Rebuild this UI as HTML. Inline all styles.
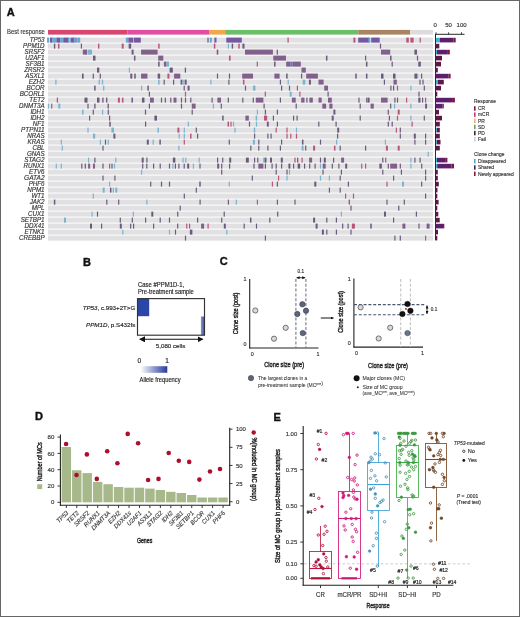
<!DOCTYPE html>
<html><head><meta charset="utf-8"><title>Figure</title>
<style>
html,body{margin:0;padding:0;background:#fff;}
body{width:520px;height:617px;overflow:hidden;}
svg{display:block;font-family:"Liberation Sans", sans-serif;}
#w{width:520px;height:617px;will-change:transform;}
</style></head>
<body>
<div id="w">
<svg width="520" height="617" viewBox="0 0 520 617">
<rect x="0" y="0" width="520" height="617" fill="#fff"/>
<text x="6.80" y="15.78" font-size="11" text-anchor="start" fill="#111" stroke="#111" stroke-width="0.4" font-weight="bold">A</text>
<text x="44.90" y="34.20" font-size="6.4" text-anchor="end" fill="#333" stroke="#333" stroke-width="0.12" textLength="37.8" lengthAdjust="spacingAndGlyphs">Best response</text>
<rect x="48.00" y="29.90" width="79.30" height="4.70" fill="#d9466f"/>
<rect x="127.30" y="29.90" width="82.30" height="4.70" fill="#e04fa3"/>
<rect x="209.60" y="29.90" width="15.60" height="4.70" fill="#f0a848"/>
<rect x="225.20" y="29.90" width="133.10" height="4.70" fill="#6cbf6a"/>
<rect x="358.30" y="29.90" width="51.90" height="4.70" fill="#a88462"/>
<rect x="410.20" y="29.90" width="22.80" height="4.70" fill="#dcdcdc"/>
<rect x="48.00" y="37.60" width="385.00" height="5.00" fill="#e1e1e3"/>
<text x="44.60" y="42.34" font-size="6.5" text-anchor="end" fill="#333" stroke="#333" stroke-width="0.15" font-style="italic" textLength="14.91" lengthAdjust="spacingAndGlyphs">TP53</text>
<rect x="48.00" y="43.60" width="385.00" height="5.00" fill="#e1e1e3"/>
<text x="44.60" y="48.34" font-size="6.5" text-anchor="end" fill="#333" stroke="#333" stroke-width="0.15" font-style="italic" textLength="21.5" lengthAdjust="spacingAndGlyphs">PPM1D</text>
<rect x="48.00" y="49.60" width="385.00" height="5.00" fill="#e1e1e3"/>
<text x="44.60" y="54.34" font-size="6.5" text-anchor="end" fill="#333" stroke="#333" stroke-width="0.15" font-style="italic" textLength="20.11" lengthAdjust="spacingAndGlyphs">SRSF2</text>
<rect x="48.00" y="55.60" width="385.00" height="5.00" fill="#e1e1e3"/>
<text x="44.60" y="60.34" font-size="6.5" text-anchor="end" fill="#333" stroke="#333" stroke-width="0.15" font-style="italic" textLength="19.42" lengthAdjust="spacingAndGlyphs">U2AF1</text>
<rect x="48.00" y="61.60" width="385.00" height="5.00" fill="#e1e1e3"/>
<text x="44.60" y="66.34" font-size="6.5" text-anchor="end" fill="#333" stroke="#333" stroke-width="0.15" font-style="italic" textLength="19.08" lengthAdjust="spacingAndGlyphs">SF3B1</text>
<rect x="48.00" y="67.60" width="385.00" height="5.00" fill="#e1e1e3"/>
<text x="44.60" y="72.34" font-size="6.5" text-anchor="end" fill="#333" stroke="#333" stroke-width="0.15" font-style="italic" textLength="20.46" lengthAdjust="spacingAndGlyphs">ZRSR2</text>
<rect x="48.00" y="73.60" width="385.00" height="5.00" fill="#e1e1e3"/>
<text x="44.60" y="78.34" font-size="6.5" text-anchor="end" fill="#333" stroke="#333" stroke-width="0.15" font-style="italic" textLength="19.43" lengthAdjust="spacingAndGlyphs">ASXL1</text>
<rect x="48.00" y="79.60" width="385.00" height="5.00" fill="#e1e1e3"/>
<text x="44.60" y="84.34" font-size="6.5" text-anchor="end" fill="#333" stroke="#333" stroke-width="0.15" font-style="italic" textLength="15.95" lengthAdjust="spacingAndGlyphs">EZH2</text>
<rect x="48.00" y="85.60" width="385.00" height="5.00" fill="#e1e1e3"/>
<text x="44.60" y="90.34" font-size="6.5" text-anchor="end" fill="#333" stroke="#333" stroke-width="0.15" font-style="italic" textLength="18.03" lengthAdjust="spacingAndGlyphs">BCOR</text>
<rect x="48.00" y="91.60" width="385.00" height="5.00" fill="#e1e1e3"/>
<text x="44.60" y="96.34" font-size="6.5" text-anchor="end" fill="#333" stroke="#333" stroke-width="0.15" font-style="italic" textLength="24.97" lengthAdjust="spacingAndGlyphs">BCORL1</text>
<rect x="48.00" y="97.60" width="385.00" height="5.00" fill="#e1e1e3"/>
<text x="44.60" y="102.34" font-size="6.5" text-anchor="end" fill="#333" stroke="#333" stroke-width="0.15" font-style="italic" textLength="15.26" lengthAdjust="spacingAndGlyphs">TET2</text>
<rect x="48.00" y="103.60" width="385.00" height="5.00" fill="#e1e1e3"/>
<text x="44.60" y="108.34" font-size="6.5" text-anchor="end" fill="#333" stroke="#333" stroke-width="0.15" font-style="italic" textLength="25.65" lengthAdjust="spacingAndGlyphs">DNMT3A</text>
<rect x="48.00" y="109.60" width="385.00" height="5.00" fill="#e1e1e3"/>
<text x="44.60" y="114.34" font-size="6.5" text-anchor="end" fill="#333" stroke="#333" stroke-width="0.15" font-style="italic" textLength="14.22" lengthAdjust="spacingAndGlyphs">IDH1</text>
<rect x="48.00" y="115.60" width="385.00" height="5.00" fill="#e1e1e3"/>
<text x="44.60" y="120.34" font-size="6.5" text-anchor="end" fill="#333" stroke="#333" stroke-width="0.15" font-style="italic" textLength="14.22" lengthAdjust="spacingAndGlyphs">IDH2</text>
<rect x="48.00" y="121.60" width="385.00" height="5.00" fill="#e1e1e3"/>
<text x="44.60" y="126.34" font-size="6.5" text-anchor="end" fill="#333" stroke="#333" stroke-width="0.15" font-style="italic" textLength="11.79" lengthAdjust="spacingAndGlyphs">NF1</text>
<rect x="48.00" y="127.60" width="385.00" height="5.00" fill="#e1e1e3"/>
<text x="44.60" y="132.34" font-size="6.5" text-anchor="end" fill="#333" stroke="#333" stroke-width="0.15" font-style="italic" textLength="23.58" lengthAdjust="spacingAndGlyphs">PTPN11</text>
<rect x="48.00" y="133.60" width="385.00" height="5.00" fill="#e1e1e3"/>
<text x="44.60" y="138.34" font-size="6.5" text-anchor="end" fill="#333" stroke="#333" stroke-width="0.15" font-style="italic" textLength="17.34" lengthAdjust="spacingAndGlyphs">NRAS</text>
<rect x="48.00" y="139.60" width="385.00" height="5.00" fill="#e1e1e3"/>
<text x="44.60" y="144.34" font-size="6.5" text-anchor="end" fill="#333" stroke="#333" stroke-width="0.15" font-style="italic" textLength="16.99" lengthAdjust="spacingAndGlyphs">KRAS</text>
<rect x="48.00" y="145.60" width="385.00" height="5.00" fill="#e1e1e3"/>
<text x="44.60" y="150.34" font-size="6.5" text-anchor="end" fill="#333" stroke="#333" stroke-width="0.15" font-style="italic" textLength="12.14" lengthAdjust="spacingAndGlyphs">CBL</text>
<rect x="48.00" y="151.60" width="385.00" height="5.00" fill="#e1e1e3"/>
<text x="44.60" y="156.34" font-size="6.5" text-anchor="end" fill="#333" stroke="#333" stroke-width="0.15" font-style="italic" textLength="17.68" lengthAdjust="spacingAndGlyphs">GNAS</text>
<rect x="48.00" y="157.60" width="385.00" height="5.00" fill="#e1e1e3"/>
<text x="44.60" y="162.34" font-size="6.5" text-anchor="end" fill="#333" stroke="#333" stroke-width="0.15" font-style="italic" textLength="20.46" lengthAdjust="spacingAndGlyphs">STAG2</text>
<rect x="48.00" y="163.60" width="385.00" height="5.00" fill="#e1e1e3"/>
<text x="44.60" y="168.34" font-size="6.5" text-anchor="end" fill="#333" stroke="#333" stroke-width="0.15" font-style="italic" textLength="21.15" lengthAdjust="spacingAndGlyphs">RUNX1</text>
<rect x="48.00" y="169.60" width="385.00" height="5.00" fill="#e1e1e3"/>
<text x="44.60" y="174.34" font-size="6.5" text-anchor="end" fill="#333" stroke="#333" stroke-width="0.15" font-style="italic" textLength="15.61" lengthAdjust="spacingAndGlyphs">ETV6</text>
<rect x="48.00" y="175.60" width="385.00" height="5.00" fill="#e1e1e3"/>
<text x="44.60" y="180.34" font-size="6.5" text-anchor="end" fill="#333" stroke="#333" stroke-width="0.15" font-style="italic" textLength="20.46" lengthAdjust="spacingAndGlyphs">GATA2</text>
<rect x="48.00" y="181.60" width="385.00" height="5.00" fill="#e1e1e3"/>
<text x="44.60" y="186.34" font-size="6.5" text-anchor="end" fill="#333" stroke="#333" stroke-width="0.15" font-style="italic" textLength="15.95" lengthAdjust="spacingAndGlyphs">PHF6</text>
<rect x="48.00" y="187.60" width="385.00" height="5.00" fill="#e1e1e3"/>
<text x="44.60" y="192.34" font-size="6.5" text-anchor="end" fill="#333" stroke="#333" stroke-width="0.15" font-style="italic" textLength="17.34" lengthAdjust="spacingAndGlyphs">NPM1</text>
<rect x="48.00" y="193.60" width="385.00" height="5.00" fill="#e1e1e3"/>
<text x="44.60" y="198.34" font-size="6.5" text-anchor="end" fill="#333" stroke="#333" stroke-width="0.15" font-style="italic" textLength="13.17" lengthAdjust="spacingAndGlyphs">WT1</text>
<rect x="48.00" y="199.60" width="385.00" height="5.00" fill="#e1e1e3"/>
<text x="44.60" y="204.34" font-size="6.5" text-anchor="end" fill="#333" stroke="#333" stroke-width="0.15" font-style="italic" textLength="14.91" lengthAdjust="spacingAndGlyphs">JAK2</text>
<rect x="48.00" y="205.60" width="385.00" height="5.00" fill="#e1e1e3"/>
<text x="44.60" y="210.34" font-size="6.5" text-anchor="end" fill="#333" stroke="#333" stroke-width="0.15" font-style="italic" textLength="12.83" lengthAdjust="spacingAndGlyphs">MPL</text>
<rect x="48.00" y="211.60" width="385.00" height="5.00" fill="#e1e1e3"/>
<text x="44.60" y="216.34" font-size="6.5" text-anchor="end" fill="#333" stroke="#333" stroke-width="0.15" font-style="italic" textLength="16.65" lengthAdjust="spacingAndGlyphs">CUX1</text>
<rect x="48.00" y="217.60" width="385.00" height="5.00" fill="#e1e1e3"/>
<text x="44.60" y="222.34" font-size="6.5" text-anchor="end" fill="#333" stroke="#333" stroke-width="0.15" font-style="italic" textLength="23.93" lengthAdjust="spacingAndGlyphs">SETBP1</text>
<rect x="48.00" y="223.60" width="385.00" height="5.00" fill="#e1e1e3"/>
<text x="44.60" y="228.34" font-size="6.5" text-anchor="end" fill="#333" stroke="#333" stroke-width="0.15" font-style="italic" textLength="20.12" lengthAdjust="spacingAndGlyphs">DDX41</text>
<rect x="48.00" y="229.60" width="385.00" height="5.00" fill="#e1e1e3"/>
<text x="44.60" y="234.34" font-size="6.5" text-anchor="end" fill="#333" stroke="#333" stroke-width="0.15" font-style="italic" textLength="20.11" lengthAdjust="spacingAndGlyphs">ETNK1</text>
<rect x="48.00" y="235.60" width="385.00" height="5.00" fill="#e1e1e3"/>
<text x="44.60" y="240.34" font-size="6.5" text-anchor="end" fill="#333" stroke="#333" stroke-width="0.15" font-style="italic" textLength="25.66" lengthAdjust="spacingAndGlyphs">CREBBP</text>
<rect x="47.00" y="37.60" width="2.00" height="5.00" fill="#62aad8"/>
<rect x="50.00" y="37.60" width="2.50" height="5.00" fill="#7458a2"/>
<rect x="52.50" y="37.60" width="4.00" height="5.00" fill="#62aad8"/>
<rect x="56.50" y="37.60" width="4.00" height="5.00" fill="#7458a2"/>
<rect x="60.50" y="37.60" width="2.80" height="5.00" fill="#62aad8"/>
<rect x="63.30" y="37.60" width="5.50" height="5.00" fill="#7458a2"/>
<rect x="67.95" y="37.60" width="1.70" height="5.00" fill="#62aad8"/>
<rect x="70.50" y="37.60" width="4.00" height="5.00" fill="#7458a2"/>
<rect x="73.75" y="37.60" width="1.50" height="5.00" fill="#62aad8"/>
<rect x="75.40" y="37.60" width="1.20" height="5.00" fill="#7458a2"/>
<rect x="77.20" y="37.60" width="3.00" height="5.00" fill="#62aad8"/>
<rect x="125.90" y="37.60" width="2.50" height="5.00" fill="#62aad8"/>
<rect x="128.40" y="37.60" width="5.00" height="5.00" fill="#7458a2"/>
<rect x="134.00" y="37.60" width="6.80" height="5.00" fill="#7458a2"/>
<rect x="207.40" y="37.60" width="1.20" height="5.00" fill="#6c5a7a"/>
<rect x="209.80" y="37.60" width="2.00" height="5.00" fill="#62aad8"/>
<rect x="214.40" y="37.60" width="2.10" height="5.00" fill="#7458a2"/>
<rect x="226.30" y="37.60" width="15.50" height="5.00" fill="#7458a2"/>
<rect x="287.45" y="37.60" width="1.30" height="5.00" fill="#b8557a"/>
<rect x="353.40" y="37.60" width="2.00" height="5.00" fill="#b8557a"/>
<rect x="358.20" y="37.60" width="11.10" height="5.00" fill="#7458a2"/>
<rect x="368.35" y="37.60" width="1.90" height="5.00" fill="#62aad8"/>
<rect x="371.20" y="37.60" width="8.50" height="5.00" fill="#7458a2"/>
<rect x="406.30" y="37.60" width="2.50" height="5.00" fill="#b8557a"/>
<rect x="410.40" y="37.60" width="3.20" height="5.00" fill="#b8557a"/>
<rect x="419.60" y="37.60" width="1.20" height="5.00" fill="#b8557a"/>
<rect x="53.90" y="43.60" width="1.40" height="5.00" fill="#6c5a7a"/>
<rect x="57.95" y="43.60" width="1.50" height="5.00" fill="#b8557a"/>
<rect x="80.80" y="43.60" width="1.20" height="5.00" fill="#6c5a7a"/>
<rect x="98.00" y="43.60" width="1.40" height="5.00" fill="#b8557a"/>
<rect x="121.70" y="43.60" width="2.00" height="5.00" fill="#b8557a"/>
<rect x="128.65" y="43.60" width="2.50" height="5.00" fill="#6c5a7a"/>
<rect x="158.15" y="43.60" width="1.50" height="5.00" fill="#b8557a"/>
<rect x="213.85" y="43.60" width="1.50" height="5.00" fill="#b8557a"/>
<rect x="227.80" y="43.60" width="1.20" height="5.00" fill="#7ab4cf"/>
<rect x="231.70" y="43.60" width="1.40" height="5.00" fill="#6c5a7a"/>
<rect x="238.25" y="43.60" width="1.50" height="5.00" fill="#b8557a"/>
<rect x="242.40" y="43.60" width="2.10" height="5.00" fill="#6c5a7a"/>
<rect x="379.90" y="43.60" width="1.20" height="5.00" fill="#6c5a7a"/>
<rect x="82.80" y="49.60" width="3.70" height="5.00" fill="#82608c"/>
<rect x="85.75" y="49.60" width="1.50" height="5.00" fill="#82608c"/>
<rect x="88.00" y="49.60" width="4.00" height="5.00" fill="#7ab4cf"/>
<rect x="131.60" y="49.60" width="2.00" height="5.00" fill="#6c5a7a"/>
<rect x="141.10" y="49.60" width="16.50" height="5.00" fill="#82608c"/>
<rect x="216.75" y="49.60" width="1.50" height="5.00" fill="#6c5a7a"/>
<rect x="245.00" y="49.60" width="27.90" height="5.00" fill="#82608c"/>
<rect x="276.70" y="49.60" width="1.20" height="5.00" fill="#6c5a7a"/>
<rect x="381.00" y="49.60" width="9.20" height="5.00" fill="#82608c"/>
<rect x="414.40" y="49.60" width="2.60" height="5.00" fill="#6c5a7a"/>
<rect x="93.00" y="55.60" width="2.50" height="5.00" fill="#6c5a7a"/>
<rect x="133.95" y="55.60" width="1.50" height="5.00" fill="#6c5a7a"/>
<rect x="158.20" y="55.60" width="5.10" height="5.00" fill="#82608c"/>
<rect x="228.95" y="55.60" width="1.70" height="5.00" fill="#b8557a"/>
<rect x="273.30" y="55.60" width="12.70" height="5.00" fill="#82608c"/>
<rect x="325.95" y="55.60" width="1.50" height="5.00" fill="#6c5a7a"/>
<rect x="365.00" y="55.60" width="1.20" height="5.00" fill="#6c5a7a"/>
<rect x="390.05" y="55.60" width="1.50" height="5.00" fill="#6c5a7a"/>
<rect x="416.90" y="55.60" width="1.20" height="5.00" fill="#6c5a7a"/>
<rect x="158.15" y="61.60" width="1.50" height="5.00" fill="#6c5a7a"/>
<rect x="163.90" y="61.60" width="2.60" height="5.00" fill="#82608c"/>
<rect x="166.50" y="61.60" width="2.50" height="5.00" fill="#7ab4cf"/>
<rect x="256.70" y="61.60" width="1.20" height="5.00" fill="#b8557a"/>
<rect x="274.05" y="61.60" width="1.50" height="5.00" fill="#6c5a7a"/>
<rect x="286.20" y="61.60" width="4.00" height="5.00" fill="#82608c"/>
<rect x="290.20" y="61.60" width="2.50" height="5.00" fill="#7078b0"/>
<rect x="292.70" y="61.60" width="8.10" height="5.00" fill="#82608c"/>
<rect x="365.95" y="61.60" width="1.50" height="5.00" fill="#6c5a7a"/>
<rect x="391.60" y="61.60" width="1.20" height="5.00" fill="#6c5a7a"/>
<rect x="418.30" y="61.60" width="2.50" height="5.00" fill="#6c5a7a"/>
<rect x="97.00" y="67.60" width="2.30" height="5.00" fill="#6c5a7a"/>
<rect x="128.80" y="67.60" width="1.20" height="5.00" fill="#7ab4cf"/>
<rect x="169.60" y="67.60" width="3.20" height="5.00" fill="#6c5a7a"/>
<rect x="184.75" y="67.60" width="1.30" height="5.00" fill="#6c5a7a"/>
<rect x="301.50" y="67.60" width="4.30" height="5.00" fill="#82608c"/>
<rect x="81.95" y="73.60" width="1.70" height="5.00" fill="#6c5a7a"/>
<rect x="92.70" y="73.60" width="1.20" height="5.00" fill="#6c5a7a"/>
<rect x="99.70" y="73.60" width="1.20" height="5.00" fill="#6c5a7a"/>
<rect x="130.30" y="73.60" width="2.00" height="5.00" fill="#6c5a7a"/>
<rect x="134.25" y="73.60" width="1.50" height="5.00" fill="#6c5a7a"/>
<rect x="141.10" y="73.60" width="6.30" height="5.00" fill="#82608c"/>
<rect x="157.65" y="73.60" width="2.50" height="5.00" fill="#6c5a7a"/>
<rect x="167.40" y="73.60" width="2.00" height="5.00" fill="#b8557a"/>
<rect x="174.10" y="73.60" width="6.20" height="5.00" fill="#82608c"/>
<rect x="216.90" y="73.60" width="1.20" height="5.00" fill="#6c5a7a"/>
<rect x="228.90" y="73.60" width="1.20" height="5.00" fill="#6c5a7a"/>
<rect x="242.20" y="73.60" width="10.80" height="5.00" fill="#82608c"/>
<rect x="274.40" y="73.60" width="5.20" height="5.00" fill="#82608c"/>
<rect x="286.15" y="73.60" width="1.50" height="5.00" fill="#6c5a7a"/>
<rect x="301.00" y="73.60" width="1.20" height="5.00" fill="#6c5a7a"/>
<rect x="306.20" y="73.60" width="11.70" height="5.00" fill="#82608c"/>
<rect x="355.25" y="73.60" width="1.50" height="5.00" fill="#6c5a7a"/>
<rect x="365.95" y="73.60" width="1.50" height="5.00" fill="#6c5a7a"/>
<rect x="381.00" y="73.60" width="2.50" height="5.00" fill="#6c5a7a"/>
<rect x="393.00" y="73.60" width="2.50" height="5.00" fill="#6c5a7a"/>
<rect x="414.40" y="73.60" width="2.60" height="5.00" fill="#6c5a7a"/>
<rect x="417.00" y="73.60" width="1.20" height="5.00" fill="#7ab4cf"/>
<rect x="421.00" y="73.60" width="1.20" height="5.00" fill="#6c5a7a"/>
<rect x="55.25" y="79.60" width="1.30" height="5.00" fill="#7ab4cf"/>
<rect x="98.65" y="79.60" width="1.30" height="5.00" fill="#7ab4cf"/>
<rect x="101.85" y="79.60" width="1.30" height="5.00" fill="#7ab4cf"/>
<rect x="158.15" y="79.60" width="1.50" height="5.00" fill="#7ab4cf"/>
<rect x="163.60" y="79.60" width="1.20" height="5.00" fill="#6c5a7a"/>
<rect x="173.00" y="79.60" width="1.20" height="5.00" fill="#6c5a7a"/>
<rect x="180.60" y="79.60" width="1.60" height="5.00" fill="#6c5a7a"/>
<rect x="182.20" y="79.60" width="1.60" height="5.00" fill="#7ab4cf"/>
<rect x="184.60" y="79.60" width="2.10" height="5.00" fill="#6c5a7a"/>
<rect x="210.30" y="79.60" width="1.20" height="5.00" fill="#7ab4cf"/>
<rect x="228.30" y="79.60" width="1.20" height="5.00" fill="#6c5a7a"/>
<rect x="242.95" y="79.60" width="1.50" height="5.00" fill="#b8557a"/>
<rect x="279.80" y="79.60" width="1.20" height="5.00" fill="#6c5a7a"/>
<rect x="287.60" y="79.60" width="1.20" height="5.00" fill="#7ab4cf"/>
<rect x="302.70" y="79.60" width="2.60" height="5.00" fill="#7ab4cf"/>
<rect x="308.90" y="79.60" width="2.00" height="5.00" fill="#6c5a7a"/>
<rect x="318.50" y="79.60" width="5.10" height="5.00" fill="#82608c"/>
<rect x="383.80" y="79.60" width="1.20" height="5.00" fill="#6c5a7a"/>
<rect x="393.50" y="79.60" width="3.30" height="5.00" fill="#82608c"/>
<rect x="419.40" y="79.60" width="1.20" height="5.00" fill="#6c5a7a"/>
<rect x="422.40" y="79.60" width="1.20" height="5.00" fill="#6c5a7a"/>
<rect x="94.15" y="85.60" width="1.50" height="5.00" fill="#6c5a7a"/>
<rect x="103.05" y="85.60" width="1.30" height="5.00" fill="#7ab4cf"/>
<rect x="141.00" y="85.60" width="1.20" height="5.00" fill="#7ab4cf"/>
<rect x="147.35" y="85.60" width="1.50" height="5.00" fill="#6c5a7a"/>
<rect x="183.60" y="85.60" width="1.20" height="5.00" fill="#6c5a7a"/>
<rect x="187.60" y="85.60" width="2.00" height="5.00" fill="#6c5a7a"/>
<rect x="244.90" y="85.60" width="1.20" height="5.00" fill="#6c5a7a"/>
<rect x="252.95" y="85.60" width="2.50" height="5.00" fill="#7ab4cf"/>
<rect x="281.00" y="85.60" width="1.20" height="5.00" fill="#6c5a7a"/>
<rect x="288.90" y="85.60" width="1.20" height="5.00" fill="#6c5a7a"/>
<rect x="296.80" y="85.60" width="1.20" height="5.00" fill="#b8557a"/>
<rect x="324.20" y="85.60" width="3.80" height="5.00" fill="#82608c"/>
<rect x="390.30" y="85.60" width="1.20" height="5.00" fill="#6c5a7a"/>
<rect x="393.00" y="85.60" width="1.20" height="5.00" fill="#6c5a7a"/>
<rect x="396.90" y="85.60" width="1.20" height="5.00" fill="#b8557a"/>
<rect x="410.30" y="85.60" width="1.20" height="5.00" fill="#7ab4cf"/>
<rect x="423.70" y="85.60" width="1.20" height="5.00" fill="#6c5a7a"/>
<rect x="148.80" y="91.60" width="1.20" height="5.00" fill="#6c5a7a"/>
<rect x="184.90" y="91.60" width="1.20" height="5.00" fill="#b8557a"/>
<rect x="264.70" y="91.60" width="1.20" height="5.00" fill="#b8557a"/>
<rect x="289.70" y="91.60" width="2.00" height="5.00" fill="#7ab4cf"/>
<rect x="299.30" y="91.60" width="1.20" height="5.00" fill="#b8557a"/>
<rect x="327.50" y="91.60" width="1.20" height="5.00" fill="#6c5a7a"/>
<rect x="418.40" y="91.60" width="1.20" height="5.00" fill="#6c5a7a"/>
<rect x="56.75" y="97.60" width="1.30" height="5.00" fill="#b8557a"/>
<rect x="84.50" y="97.60" width="3.00" height="5.00" fill="#6c5a7a"/>
<rect x="97.00" y="97.60" width="2.50" height="5.00" fill="#6c5a7a"/>
<rect x="102.25" y="97.60" width="1.30" height="5.00" fill="#6c5a7a"/>
<rect x="106.05" y="97.60" width="1.30" height="5.00" fill="#6c5a7a"/>
<rect x="117.90" y="97.60" width="2.00" height="5.00" fill="#b8557a"/>
<rect x="121.95" y="97.60" width="1.50" height="5.00" fill="#b8557a"/>
<rect x="131.45" y="97.60" width="1.50" height="5.00" fill="#6c5a7a"/>
<rect x="141.95" y="97.60" width="2.50" height="5.00" fill="#6c5a7a"/>
<rect x="150.00" y="97.60" width="3.80" height="5.00" fill="#82608c"/>
<rect x="160.90" y="97.60" width="1.20" height="5.00" fill="#6c5a7a"/>
<rect x="164.70" y="97.60" width="1.20" height="5.00" fill="#6c5a7a"/>
<rect x="170.20" y="97.60" width="1.20" height="5.00" fill="#6c5a7a"/>
<rect x="173.50" y="97.60" width="3.00" height="5.00" fill="#82608c"/>
<rect x="180.90" y="97.60" width="1.20" height="5.00" fill="#6c5a7a"/>
<rect x="184.90" y="97.60" width="1.20" height="5.00" fill="#6c5a7a"/>
<rect x="190.20" y="97.60" width="1.20" height="5.00" fill="#6c5a7a"/>
<rect x="211.50" y="97.60" width="1.20" height="5.00" fill="#6c5a7a"/>
<rect x="217.40" y="97.60" width="3.60" height="5.00" fill="#82608c"/>
<rect x="227.70" y="97.60" width="1.20" height="5.00" fill="#6c5a7a"/>
<rect x="242.20" y="97.60" width="1.20" height="5.00" fill="#6c5a7a"/>
<rect x="252.70" y="97.60" width="1.20" height="5.00" fill="#6c5a7a"/>
<rect x="255.80" y="97.60" width="7.60" height="5.00" fill="#82608c"/>
<rect x="279.80" y="97.60" width="1.20" height="5.00" fill="#6c5a7a"/>
<rect x="291.90" y="97.60" width="3.80" height="5.00" fill="#82608c"/>
<rect x="301.20" y="97.60" width="3.30" height="5.00" fill="#82608c"/>
<rect x="306.30" y="97.60" width="1.20" height="5.00" fill="#6c5a7a"/>
<rect x="309.40" y="97.60" width="3.40" height="5.00" fill="#82608c"/>
<rect x="318.50" y="97.60" width="3.20" height="5.00" fill="#82608c"/>
<rect x="328.00" y="97.60" width="3.80" height="5.00" fill="#82608c"/>
<rect x="358.40" y="97.60" width="1.20" height="5.00" fill="#6c5a7a"/>
<rect x="366.20" y="97.60" width="1.20" height="5.00" fill="#6c5a7a"/>
<rect x="367.60" y="97.60" width="2.00" height="5.00" fill="#6c5a7a"/>
<rect x="381.00" y="97.60" width="6.60" height="5.00" fill="#82608c"/>
<rect x="394.30" y="97.60" width="1.20" height="5.00" fill="#6c5a7a"/>
<rect x="396.90" y="97.60" width="1.20" height="5.00" fill="#6c5a7a"/>
<rect x="406.00" y="97.60" width="1.20" height="5.00" fill="#b8557a"/>
<rect x="418.30" y="97.60" width="2.20" height="5.00" fill="#6c5a7a"/>
<rect x="422.00" y="97.60" width="1.20" height="5.00" fill="#6c5a7a"/>
<rect x="425.00" y="97.60" width="1.20" height="5.00" fill="#b8557a"/>
<rect x="47.80" y="103.60" width="1.20" height="5.00" fill="#7ab4cf"/>
<rect x="51.10" y="103.60" width="1.20" height="5.00" fill="#b8557a"/>
<rect x="58.30" y="103.60" width="2.00" height="5.00" fill="#7ab4cf"/>
<rect x="87.40" y="103.60" width="1.20" height="5.00" fill="#6c5a7a"/>
<rect x="94.25" y="103.60" width="1.30" height="5.00" fill="#6c5a7a"/>
<rect x="107.55" y="103.60" width="1.30" height="5.00" fill="#6c5a7a"/>
<rect x="148.80" y="103.60" width="1.20" height="5.00" fill="#6c5a7a"/>
<rect x="180.90" y="103.60" width="1.20" height="5.00" fill="#6c5a7a"/>
<rect x="191.80" y="103.60" width="3.80" height="5.00" fill="#82608c"/>
<rect x="212.80" y="103.60" width="1.20" height="5.00" fill="#7ab4cf"/>
<rect x="220.70" y="103.60" width="1.20" height="5.00" fill="#6c5a7a"/>
<rect x="263.50" y="103.60" width="1.20" height="5.00" fill="#6c5a7a"/>
<rect x="295.60" y="103.60" width="1.20" height="5.00" fill="#6c5a7a"/>
<rect x="322.30" y="103.60" width="3.80" height="5.00" fill="#82608c"/>
<rect x="329.30" y="103.60" width="3.20" height="5.00" fill="#82608c"/>
<rect x="359.60" y="103.60" width="1.20" height="5.00" fill="#6c5a7a"/>
<rect x="370.60" y="103.60" width="3.20" height="5.00" fill="#82608c"/>
<rect x="390.10" y="103.60" width="1.20" height="5.00" fill="#6c5a7a"/>
<rect x="394.00" y="103.60" width="1.20" height="5.00" fill="#7ab4cf"/>
<rect x="410.30" y="103.60" width="1.20" height="5.00" fill="#7ab4cf"/>
<rect x="425.15" y="103.60" width="1.90" height="5.00" fill="#6c5a7a"/>
<rect x="82.05" y="109.60" width="1.50" height="5.00" fill="#7ab4cf"/>
<rect x="92.70" y="109.60" width="1.20" height="5.00" fill="#6c5a7a"/>
<rect x="102.00" y="109.60" width="1.20" height="5.00" fill="#7ab4cf"/>
<rect x="107.70" y="109.60" width="1.20" height="5.00" fill="#6c5a7a"/>
<rect x="144.90" y="109.60" width="1.20" height="5.00" fill="#6c5a7a"/>
<rect x="191.60" y="109.60" width="1.20" height="5.00" fill="#6c5a7a"/>
<rect x="256.80" y="109.60" width="1.20" height="5.00" fill="#7ab4cf"/>
<rect x="264.80" y="109.60" width="1.20" height="5.00" fill="#6c5a7a"/>
<rect x="276.80" y="109.60" width="1.20" height="5.00" fill="#6c5a7a"/>
<rect x="333.40" y="109.60" width="2.00" height="5.00" fill="#6c5a7a"/>
<rect x="387.70" y="109.60" width="1.20" height="5.00" fill="#6c5a7a"/>
<rect x="397.70" y="109.60" width="2.00" height="5.00" fill="#b8557a"/>
<rect x="89.00" y="115.60" width="1.20" height="5.00" fill="#6c5a7a"/>
<rect x="109.00" y="115.60" width="1.20" height="5.00" fill="#6c5a7a"/>
<rect x="154.40" y="115.60" width="2.60" height="5.00" fill="#6c5a7a"/>
<rect x="222.15" y="115.60" width="1.50" height="5.00" fill="#6c5a7a"/>
<rect x="245.40" y="115.60" width="3.40" height="5.00" fill="#82608c"/>
<rect x="255.65" y="115.60" width="1.50" height="5.00" fill="#7ab4cf"/>
<rect x="264.00" y="115.60" width="3.20" height="5.00" fill="#b8557a"/>
<rect x="272.80" y="115.60" width="1.20" height="5.00" fill="#6c5a7a"/>
<rect x="293.00" y="115.60" width="1.20" height="5.00" fill="#6c5a7a"/>
<rect x="296.50" y="115.60" width="1.20" height="5.00" fill="#6c5a7a"/>
<rect x="331.70" y="115.60" width="2.00" height="5.00" fill="#6c5a7a"/>
<rect x="359.60" y="115.60" width="1.20" height="5.00" fill="#6c5a7a"/>
<rect x="388.80" y="115.60" width="1.20" height="5.00" fill="#6c5a7a"/>
<rect x="396.90" y="115.60" width="1.20" height="5.00" fill="#b8557a"/>
<rect x="410.30" y="115.60" width="1.20" height="5.00" fill="#7ab4cf"/>
<rect x="423.70" y="115.60" width="1.20" height="5.00" fill="#6c5a7a"/>
<rect x="109.25" y="121.60" width="1.50" height="5.00" fill="#6c5a7a"/>
<rect x="145.00" y="121.60" width="1.20" height="5.00" fill="#6c5a7a"/>
<rect x="187.70" y="121.60" width="1.20" height="5.00" fill="#7ab4cf"/>
<rect x="227.55" y="121.60" width="1.50" height="5.00" fill="#b8557a"/>
<rect x="230.40" y="121.60" width="1.20" height="5.00" fill="#b8557a"/>
<rect x="232.90" y="121.60" width="1.20" height="5.00" fill="#7ab4cf"/>
<rect x="248.90" y="121.60" width="1.20" height="5.00" fill="#6c5a7a"/>
<rect x="255.90" y="121.60" width="1.20" height="5.00" fill="#7ab4cf"/>
<rect x="266.85" y="121.60" width="1.90" height="5.00" fill="#6c5a7a"/>
<rect x="276.80" y="121.60" width="1.20" height="5.00" fill="#6c5a7a"/>
<rect x="318.20" y="121.60" width="1.20" height="5.00" fill="#6c5a7a"/>
<rect x="335.50" y="121.60" width="1.20" height="5.00" fill="#6c5a7a"/>
<rect x="387.70" y="121.60" width="1.20" height="5.00" fill="#6c5a7a"/>
<rect x="391.60" y="121.60" width="1.20" height="5.00" fill="#6c5a7a"/>
<rect x="411.50" y="121.60" width="1.20" height="5.00" fill="#b8557a"/>
<rect x="87.40" y="127.60" width="1.20" height="5.00" fill="#7ab4cf"/>
<rect x="111.40" y="127.60" width="2.60" height="5.00" fill="#7ab4cf"/>
<rect x="157.45" y="127.60" width="1.50" height="5.00" fill="#7ab4cf"/>
<rect x="177.40" y="127.60" width="2.00" height="5.00" fill="#b8557a"/>
<rect x="183.70" y="127.60" width="1.20" height="5.00" fill="#7ab4cf"/>
<rect x="195.70" y="127.60" width="1.20" height="5.00" fill="#6c5a7a"/>
<rect x="234.40" y="127.60" width="1.20" height="5.00" fill="#7ab4cf"/>
<rect x="253.75" y="127.60" width="1.50" height="5.00" fill="#7ab4cf"/>
<rect x="275.60" y="127.60" width="1.20" height="5.00" fill="#b8557a"/>
<rect x="286.40" y="127.60" width="1.20" height="5.00" fill="#b8557a"/>
<rect x="295.90" y="127.60" width="1.20" height="5.00" fill="#7ab4cf"/>
<rect x="337.20" y="127.60" width="2.00" height="5.00" fill="#6c5a7a"/>
<rect x="395.80" y="127.60" width="1.20" height="5.00" fill="#b8557a"/>
<rect x="399.70" y="127.60" width="1.20" height="5.00" fill="#6c5a7a"/>
<rect x="93.00" y="133.60" width="2.20" height="5.00" fill="#7ab4cf"/>
<rect x="113.40" y="133.60" width="2.00" height="5.00" fill="#6c5a7a"/>
<rect x="178.60" y="133.60" width="1.20" height="5.00" fill="#7ab4cf"/>
<rect x="183.70" y="133.60" width="1.20" height="5.00" fill="#7ab4cf"/>
<rect x="190.05" y="133.60" width="1.50" height="5.00" fill="#b8557a"/>
<rect x="197.00" y="133.60" width="1.20" height="5.00" fill="#6c5a7a"/>
<rect x="254.00" y="133.60" width="1.20" height="5.00" fill="#6c5a7a"/>
<rect x="267.30" y="133.60" width="1.20" height="5.00" fill="#6c5a7a"/>
<rect x="270.50" y="133.60" width="1.20" height="5.00" fill="#6c5a7a"/>
<rect x="286.40" y="133.60" width="1.20" height="5.00" fill="#b8557a"/>
<rect x="290.20" y="133.60" width="1.20" height="5.00" fill="#b8557a"/>
<rect x="295.90" y="133.60" width="1.20" height="5.00" fill="#b8557a"/>
<rect x="337.00" y="133.60" width="1.20" height="5.00" fill="#6c5a7a"/>
<rect x="399.70" y="133.60" width="1.20" height="5.00" fill="#6c5a7a"/>
<rect x="413.80" y="133.60" width="2.00" height="5.00" fill="#6c5a7a"/>
<rect x="425.00" y="133.60" width="1.20" height="5.00" fill="#6c5a7a"/>
<rect x="60.70" y="139.60" width="1.20" height="5.00" fill="#7ab4cf"/>
<rect x="99.80" y="139.60" width="1.20" height="5.00" fill="#7ab4cf"/>
<rect x="104.90" y="139.60" width="1.20" height="5.00" fill="#6c5a7a"/>
<rect x="107.70" y="139.60" width="1.20" height="5.00" fill="#7ab4cf"/>
<rect x="146.80" y="139.60" width="2.00" height="5.00" fill="#6c5a7a"/>
<rect x="152.60" y="139.60" width="1.20" height="5.00" fill="#7ab4cf"/>
<rect x="159.35" y="139.60" width="1.50" height="5.00" fill="#6c5a7a"/>
<rect x="183.70" y="139.60" width="1.20" height="5.00" fill="#b8557a"/>
<rect x="228.70" y="139.60" width="1.20" height="5.00" fill="#6c5a7a"/>
<rect x="252.90" y="139.60" width="2.00" height="5.00" fill="#7ab4cf"/>
<rect x="258.20" y="139.60" width="1.20" height="5.00" fill="#6c5a7a"/>
<rect x="281.00" y="139.60" width="1.20" height="5.00" fill="#6c5a7a"/>
<rect x="301.95" y="139.60" width="1.50" height="5.00" fill="#6c5a7a"/>
<rect x="319.90" y="139.60" width="1.20" height="5.00" fill="#6c5a7a"/>
<rect x="336.00" y="139.60" width="1.20" height="5.00" fill="#7ab4cf"/>
<rect x="384.80" y="139.60" width="1.20" height="5.00" fill="#7ab4cf"/>
<rect x="414.30" y="139.60" width="1.20" height="5.00" fill="#6c5a7a"/>
<rect x="425.00" y="139.60" width="1.20" height="5.00" fill="#6c5a7a"/>
<rect x="61.70" y="145.60" width="1.20" height="5.00" fill="#7ab4cf"/>
<rect x="102.40" y="145.60" width="1.20" height="5.00" fill="#6c5a7a"/>
<rect x="178.30" y="145.60" width="1.20" height="5.00" fill="#7ab4cf"/>
<rect x="250.20" y="145.60" width="1.20" height="5.00" fill="#6c5a7a"/>
<rect x="258.20" y="145.60" width="1.20" height="5.00" fill="#6c5a7a"/>
<rect x="267.30" y="145.60" width="1.20" height="5.00" fill="#6c5a7a"/>
<rect x="279.80" y="145.60" width="1.20" height="5.00" fill="#6c5a7a"/>
<rect x="301.60" y="145.60" width="2.00" height="5.00" fill="#7ab4cf"/>
<rect x="305.10" y="145.60" width="1.20" height="5.00" fill="#6c5a7a"/>
<rect x="313.10" y="145.60" width="2.00" height="5.00" fill="#b8557a"/>
<rect x="333.95" y="145.60" width="1.50" height="5.00" fill="#b8557a"/>
<rect x="339.60" y="145.60" width="1.20" height="5.00" fill="#6c5a7a"/>
<rect x="365.00" y="145.60" width="1.20" height="5.00" fill="#6c5a7a"/>
<rect x="385.90" y="145.60" width="2.00" height="5.00" fill="#b8557a"/>
<rect x="397.70" y="145.60" width="2.00" height="5.00" fill="#b8557a"/>
<rect x="427.60" y="151.60" width="1.20" height="5.00" fill="#7ab4cf"/>
<rect x="88.00" y="157.60" width="1.20" height="5.00" fill="#7ab4cf"/>
<rect x="94.30" y="157.60" width="1.20" height="5.00" fill="#6c5a7a"/>
<rect x="115.20" y="157.60" width="1.20" height="5.00" fill="#7ab4cf"/>
<rect x="141.70" y="157.60" width="2.00" height="5.00" fill="#6c5a7a"/>
<rect x="146.30" y="157.60" width="1.20" height="5.00" fill="#6c5a7a"/>
<rect x="172.85" y="157.60" width="2.50" height="5.00" fill="#6c5a7a"/>
<rect x="182.40" y="157.60" width="1.20" height="5.00" fill="#7ab4cf"/>
<rect x="185.20" y="157.60" width="1.20" height="5.00" fill="#7ab4cf"/>
<rect x="198.60" y="157.60" width="1.20" height="5.00" fill="#7ab4cf"/>
<rect x="217.00" y="157.60" width="1.20" height="5.00" fill="#6c5a7a"/>
<rect x="222.10" y="157.60" width="1.20" height="5.00" fill="#6c5a7a"/>
<rect x="229.20" y="157.60" width="2.00" height="5.00" fill="#6c5a7a"/>
<rect x="245.90" y="157.60" width="2.90" height="5.00" fill="#6c5a7a"/>
<rect x="254.00" y="157.60" width="1.20" height="5.00" fill="#6c5a7a"/>
<rect x="257.20" y="157.60" width="1.20" height="5.00" fill="#6c5a7a"/>
<rect x="263.20" y="157.60" width="1.60" height="5.00" fill="#7ab4cf"/>
<rect x="264.70" y="157.60" width="1.80" height="5.00" fill="#6c5a7a"/>
<rect x="270.00" y="157.60" width="2.00" height="5.00" fill="#6c5a7a"/>
<rect x="280.80" y="157.60" width="2.00" height="5.00" fill="#6c5a7a"/>
<rect x="294.40" y="157.60" width="1.20" height="5.00" fill="#b8557a"/>
<rect x="297.10" y="157.60" width="1.20" height="5.00" fill="#6c5a7a"/>
<rect x="301.50" y="157.60" width="1.20" height="5.00" fill="#b8557a"/>
<rect x="309.10" y="157.60" width="3.00" height="5.00" fill="#82608c"/>
<rect x="319.90" y="157.60" width="1.20" height="5.00" fill="#6c5a7a"/>
<rect x="323.80" y="157.60" width="2.00" height="5.00" fill="#6c5a7a"/>
<rect x="333.00" y="157.60" width="1.20" height="5.00" fill="#6c5a7a"/>
<rect x="341.10" y="157.60" width="3.00" height="5.00" fill="#82608c"/>
<rect x="382.20" y="157.60" width="1.20" height="5.00" fill="#6c5a7a"/>
<rect x="385.10" y="157.60" width="1.20" height="5.00" fill="#b8557a"/>
<rect x="410.30" y="157.60" width="1.20" height="5.00" fill="#7ab4cf"/>
<rect x="414.30" y="157.60" width="1.20" height="5.00" fill="#6c5a7a"/>
<rect x="419.50" y="157.60" width="1.20" height="5.00" fill="#6c5a7a"/>
<rect x="55.70" y="163.60" width="1.20" height="5.00" fill="#7ab4cf"/>
<rect x="60.70" y="163.60" width="1.20" height="5.00" fill="#7ab4cf"/>
<rect x="81.20" y="163.60" width="1.20" height="5.00" fill="#6c5a7a"/>
<rect x="84.70" y="163.60" width="1.20" height="5.00" fill="#6c5a7a"/>
<rect x="88.10" y="163.60" width="2.00" height="5.00" fill="#82608c"/>
<rect x="93.00" y="163.60" width="2.00" height="5.00" fill="#82608c"/>
<rect x="102.40" y="163.60" width="1.20" height="5.00" fill="#6c5a7a"/>
<rect x="109.00" y="163.60" width="1.20" height="5.00" fill="#b8557a"/>
<rect x="111.40" y="163.60" width="1.20" height="5.00" fill="#6c5a7a"/>
<rect x="113.90" y="163.60" width="1.20" height="5.00" fill="#7ab4cf"/>
<rect x="142.10" y="163.60" width="1.20" height="5.00" fill="#6c5a7a"/>
<rect x="146.20" y="163.60" width="1.20" height="5.00" fill="#6c5a7a"/>
<rect x="153.00" y="163.60" width="1.20" height="5.00" fill="#6c5a7a"/>
<rect x="159.60" y="163.60" width="1.20" height="5.00" fill="#6c5a7a"/>
<rect x="168.90" y="163.60" width="1.20" height="5.00" fill="#6c5a7a"/>
<rect x="172.30" y="163.60" width="1.20" height="5.00" fill="#7ab4cf"/>
<rect x="174.80" y="163.60" width="1.20" height="5.00" fill="#6c5a7a"/>
<rect x="178.30" y="163.60" width="1.20" height="5.00" fill="#6c5a7a"/>
<rect x="183.60" y="163.60" width="1.20" height="5.00" fill="#6c5a7a"/>
<rect x="187.20" y="163.60" width="2.00" height="5.00" fill="#6c5a7a"/>
<rect x="192.80" y="163.60" width="1.20" height="5.00" fill="#7ab4cf"/>
<rect x="199.40" y="163.60" width="1.20" height="5.00" fill="#6c5a7a"/>
<rect x="217.20" y="163.60" width="2.00" height="5.00" fill="#6c5a7a"/>
<rect x="221.10" y="163.60" width="1.20" height="5.00" fill="#6c5a7a"/>
<rect x="229.00" y="163.60" width="1.20" height="5.00" fill="#6c5a7a"/>
<rect x="253.40" y="163.60" width="1.20" height="5.00" fill="#6c5a7a"/>
<rect x="258.30" y="163.60" width="5.10" height="5.00" fill="#82608c"/>
<rect x="264.80" y="163.60" width="1.20" height="5.00" fill="#6c5a7a"/>
<rect x="271.50" y="163.60" width="1.20" height="5.00" fill="#6c5a7a"/>
<rect x="275.60" y="163.60" width="1.20" height="5.00" fill="#6c5a7a"/>
<rect x="281.00" y="163.60" width="1.20" height="5.00" fill="#6c5a7a"/>
<rect x="288.40" y="163.60" width="2.00" height="5.00" fill="#6c5a7a"/>
<rect x="293.00" y="163.60" width="1.20" height="5.00" fill="#6c5a7a"/>
<rect x="297.65" y="163.60" width="2.50" height="5.00" fill="#6c5a7a"/>
<rect x="304.00" y="163.60" width="1.20" height="5.00" fill="#6c5a7a"/>
<rect x="309.10" y="163.60" width="1.20" height="5.00" fill="#6c5a7a"/>
<rect x="314.50" y="163.60" width="1.20" height="5.00" fill="#6c5a7a"/>
<rect x="319.90" y="163.60" width="1.20" height="5.00" fill="#7ab4cf"/>
<rect x="322.70" y="163.60" width="3.00" height="5.00" fill="#82608c"/>
<rect x="331.70" y="163.60" width="1.20" height="5.00" fill="#6c5a7a"/>
<rect x="338.30" y="163.60" width="1.20" height="5.00" fill="#6c5a7a"/>
<rect x="345.20" y="163.60" width="2.00" height="5.00" fill="#6c5a7a"/>
<rect x="361.10" y="163.60" width="1.20" height="5.00" fill="#b8557a"/>
<rect x="365.00" y="163.60" width="1.20" height="5.00" fill="#b8557a"/>
<rect x="379.35" y="163.60" width="2.50" height="5.00" fill="#6c5a7a"/>
<rect x="387.70" y="163.60" width="1.20" height="5.00" fill="#6c5a7a"/>
<rect x="390.20" y="163.60" width="6.90" height="5.00" fill="#82608c"/>
<rect x="399.70" y="163.60" width="1.20" height="5.00" fill="#6c5a7a"/>
<rect x="410.30" y="163.60" width="1.20" height="5.00" fill="#7ab4cf"/>
<rect x="421.10" y="163.60" width="1.20" height="5.00" fill="#6c5a7a"/>
<rect x="141.00" y="169.60" width="1.20" height="5.00" fill="#7ab4cf"/>
<rect x="221.10" y="169.60" width="1.20" height="5.00" fill="#6c5a7a"/>
<rect x="275.60" y="169.60" width="1.20" height="5.00" fill="#6c5a7a"/>
<rect x="286.40" y="169.60" width="1.20" height="5.00" fill="#6c5a7a"/>
<rect x="288.90" y="169.60" width="1.20" height="5.00" fill="#7ab4cf"/>
<rect x="322.40" y="169.60" width="1.20" height="5.00" fill="#6c5a7a"/>
<rect x="340.80" y="169.60" width="1.20" height="5.00" fill="#6c5a7a"/>
<rect x="382.20" y="169.60" width="1.20" height="5.00" fill="#6c5a7a"/>
<rect x="400.80" y="169.60" width="1.20" height="5.00" fill="#6c5a7a"/>
<rect x="425.00" y="169.60" width="1.20" height="5.00" fill="#6c5a7a"/>
<rect x="102.40" y="175.60" width="1.20" height="5.00" fill="#6c5a7a"/>
<rect x="114.30" y="175.60" width="1.20" height="5.00" fill="#6c5a7a"/>
<rect x="251.70" y="175.60" width="1.20" height="5.00" fill="#6c5a7a"/>
<rect x="278.00" y="175.60" width="1.20" height="5.00" fill="#b8557a"/>
<rect x="286.40" y="175.60" width="1.20" height="5.00" fill="#7ab4cf"/>
<rect x="319.90" y="175.60" width="1.20" height="5.00" fill="#7ab4cf"/>
<rect x="328.80" y="175.60" width="1.20" height="5.00" fill="#7ab4cf"/>
<rect x="339.60" y="175.60" width="1.20" height="5.00" fill="#6c5a7a"/>
<rect x="393.00" y="175.60" width="1.20" height="5.00" fill="#6c5a7a"/>
<rect x="425.00" y="175.60" width="1.20" height="5.00" fill="#6c5a7a"/>
<rect x="109.00" y="181.60" width="1.20" height="5.00" fill="#7ab4cf"/>
<rect x="150.10" y="181.60" width="1.20" height="5.00" fill="#6c5a7a"/>
<rect x="160.90" y="181.60" width="1.20" height="5.00" fill="#6c5a7a"/>
<rect x="168.90" y="181.60" width="1.20" height="5.00" fill="#6c5a7a"/>
<rect x="199.25" y="181.60" width="1.50" height="5.00" fill="#6c5a7a"/>
<rect x="228.70" y="181.60" width="1.20" height="5.00" fill="#7ab4cf"/>
<rect x="271.80" y="181.60" width="1.20" height="5.00" fill="#b8557a"/>
<rect x="276.80" y="181.60" width="1.20" height="5.00" fill="#6c5a7a"/>
<rect x="314.30" y="181.60" width="2.00" height="5.00" fill="#6c5a7a"/>
<rect x="347.80" y="181.60" width="1.20" height="5.00" fill="#6c5a7a"/>
<rect x="386.40" y="181.60" width="1.20" height="5.00" fill="#b8557a"/>
<rect x="402.00" y="181.60" width="2.00" height="5.00" fill="#7ab4cf"/>
<rect x="421.10" y="181.60" width="1.20" height="5.00" fill="#6c5a7a"/>
<rect x="102.70" y="187.60" width="2.00" height="5.00" fill="#7ab4cf"/>
<rect x="109.95" y="187.60" width="1.50" height="5.00" fill="#6c5a7a"/>
<rect x="112.70" y="187.60" width="1.20" height="5.00" fill="#7ab4cf"/>
<rect x="115.30" y="187.60" width="2.00" height="5.00" fill="#7ab4cf"/>
<rect x="195.70" y="187.60" width="1.20" height="5.00" fill="#6c5a7a"/>
<rect x="328.80" y="187.60" width="1.20" height="5.00" fill="#6c5a7a"/>
<rect x="339.60" y="187.60" width="1.20" height="5.00" fill="#6c5a7a"/>
<rect x="92.70" y="193.60" width="1.20" height="5.00" fill="#7ab4cf"/>
<rect x="183.70" y="193.60" width="1.20" height="5.00" fill="#6c5a7a"/>
<rect x="345.00" y="193.60" width="1.20" height="5.00" fill="#b8557a"/>
<rect x="352.90" y="193.60" width="1.20" height="5.00" fill="#b8557a"/>
<rect x="425.00" y="193.60" width="1.20" height="5.00" fill="#6c5a7a"/>
<rect x="53.85" y="199.60" width="1.50" height="5.00" fill="#6c5a7a"/>
<rect x="106.20" y="199.60" width="1.20" height="5.00" fill="#6c5a7a"/>
<rect x="118.10" y="199.60" width="1.20" height="5.00" fill="#6c5a7a"/>
<rect x="146.30" y="199.60" width="1.20" height="5.00" fill="#7ab4cf"/>
<rect x="199.50" y="199.60" width="1.20" height="5.00" fill="#6c5a7a"/>
<rect x="227.80" y="199.60" width="1.20" height="5.00" fill="#6c5a7a"/>
<rect x="235.70" y="199.60" width="1.20" height="5.00" fill="#7ab4cf"/>
<rect x="256.80" y="199.60" width="1.20" height="5.00" fill="#b8557a"/>
<rect x="276.80" y="199.60" width="1.20" height="5.00" fill="#6c5a7a"/>
<rect x="294.40" y="199.60" width="1.20" height="5.00" fill="#6c5a7a"/>
<rect x="348.70" y="199.60" width="1.20" height="5.00" fill="#6c5a7a"/>
<rect x="386.40" y="199.60" width="1.20" height="5.00" fill="#6c5a7a"/>
<rect x="403.70" y="199.60" width="1.20" height="5.00" fill="#6c5a7a"/>
<rect x="179.60" y="205.60" width="1.20" height="5.00" fill="#6c5a7a"/>
<rect x="350.40" y="205.60" width="1.20" height="5.00" fill="#6c5a7a"/>
<rect x="398.20" y="205.60" width="1.20" height="5.00" fill="#6c5a7a"/>
<rect x="91.50" y="211.60" width="1.20" height="5.00" fill="#7ab4cf"/>
<rect x="96.90" y="211.60" width="1.20" height="5.00" fill="#6c5a7a"/>
<rect x="132.70" y="211.60" width="1.20" height="5.00" fill="#7ab4cf"/>
<rect x="151.30" y="211.60" width="2.00" height="5.00" fill="#6c5a7a"/>
<rect x="177.10" y="211.60" width="1.20" height="5.00" fill="#6c5a7a"/>
<rect x="223.60" y="211.60" width="1.20" height="5.00" fill="#6c5a7a"/>
<rect x="277.10" y="211.60" width="1.20" height="5.00" fill="#6c5a7a"/>
<rect x="340.80" y="211.60" width="1.20" height="5.00" fill="#7ab4cf"/>
<rect x="384.00" y="211.60" width="2.00" height="5.00" fill="#6c5a7a"/>
<rect x="415.80" y="211.60" width="1.20" height="5.00" fill="#6c5a7a"/>
<rect x="64.00" y="217.60" width="2.00" height="5.00" fill="#7ab4cf"/>
<rect x="119.70" y="217.60" width="1.20" height="5.00" fill="#6c5a7a"/>
<rect x="131.70" y="217.60" width="1.20" height="5.00" fill="#6c5a7a"/>
<rect x="145.00" y="217.60" width="1.20" height="5.00" fill="#6c5a7a"/>
<rect x="159.60" y="217.60" width="1.20" height="5.00" fill="#6c5a7a"/>
<rect x="168.90" y="217.60" width="1.20" height="5.00" fill="#6c5a7a"/>
<rect x="197.00" y="217.60" width="1.20" height="5.00" fill="#6c5a7a"/>
<rect x="221.10" y="217.60" width="1.20" height="5.00" fill="#6c5a7a"/>
<rect x="249.95" y="217.60" width="1.50" height="5.00" fill="#6c5a7a"/>
<rect x="269.20" y="217.60" width="1.20" height="5.00" fill="#6c5a7a"/>
<rect x="313.10" y="217.60" width="2.00" height="5.00" fill="#6c5a7a"/>
<rect x="326.20" y="217.60" width="1.20" height="5.00" fill="#6c5a7a"/>
<rect x="335.80" y="217.60" width="1.20" height="5.00" fill="#6c5a7a"/>
<rect x="393.00" y="217.60" width="1.20" height="5.00" fill="#6c5a7a"/>
<rect x="90.00" y="223.60" width="2.00" height="5.00" fill="#6c5a7a"/>
<rect x="101.00" y="223.60" width="1.20" height="5.00" fill="#6c5a7a"/>
<rect x="119.80" y="223.60" width="2.00" height="5.00" fill="#6c5a7a"/>
<rect x="130.10" y="223.60" width="1.20" height="5.00" fill="#6c5a7a"/>
<rect x="133.00" y="223.60" width="1.20" height="5.00" fill="#6c5a7a"/>
<rect x="153.00" y="223.60" width="1.20" height="5.00" fill="#6c5a7a"/>
<rect x="177.10" y="223.60" width="1.20" height="5.00" fill="#6c5a7a"/>
<rect x="186.20" y="223.60" width="1.20" height="5.00" fill="#b8557a"/>
<rect x="189.00" y="223.60" width="1.20" height="5.00" fill="#b8557a"/>
<rect x="201.10" y="223.60" width="3.00" height="5.00" fill="#82608c"/>
<rect x="207.50" y="223.60" width="1.20" height="5.00" fill="#b8557a"/>
<rect x="223.80" y="223.60" width="2.00" height="5.00" fill="#6c5a7a"/>
<rect x="243.60" y="223.60" width="1.20" height="5.00" fill="#6c5a7a"/>
<rect x="255.90" y="223.60" width="1.20" height="5.00" fill="#6c5a7a"/>
<rect x="315.60" y="223.60" width="2.00" height="5.00" fill="#6c5a7a"/>
<rect x="342.10" y="223.60" width="1.20" height="5.00" fill="#6c5a7a"/>
<rect x="347.50" y="223.60" width="1.20" height="5.00" fill="#6c5a7a"/>
<rect x="351.90" y="223.60" width="3.00" height="5.00" fill="#b8557a"/>
<rect x="370.25" y="223.60" width="1.50" height="5.00" fill="#6c5a7a"/>
<rect x="402.40" y="223.60" width="3.00" height="5.00" fill="#82608c"/>
<rect x="418.40" y="223.60" width="1.20" height="5.00" fill="#6c5a7a"/>
<rect x="426.60" y="223.60" width="3.00" height="5.00" fill="#82608c"/>
<rect x="122.20" y="229.60" width="1.20" height="5.00" fill="#7ab4cf"/>
<rect x="168.90" y="229.60" width="1.20" height="5.00" fill="#7ab4cf"/>
<rect x="174.90" y="229.60" width="1.20" height="5.00" fill="#6c5a7a"/>
<rect x="189.85" y="229.60" width="2.50" height="5.00" fill="#6c5a7a"/>
<rect x="226.20" y="229.60" width="1.20" height="5.00" fill="#7ab4cf"/>
<rect x="321.90" y="229.60" width="2.00" height="5.00" fill="#6c5a7a"/>
<rect x="326.20" y="229.60" width="1.20" height="5.00" fill="#6c5a7a"/>
<rect x="335.80" y="229.60" width="1.20" height="5.00" fill="#6c5a7a"/>
<rect x="350.40" y="229.60" width="1.20" height="5.00" fill="#6c5a7a"/>
<rect x="184.90" y="235.60" width="1.20" height="5.00" fill="#6c5a7a"/>
<rect x="264.80" y="235.60" width="1.20" height="5.00" fill="#6c5a7a"/>
<rect x="394.30" y="235.60" width="1.20" height="5.00" fill="#6c5a7a"/>
<rect x="399.70" y="235.60" width="1.20" height="5.00" fill="#6c5a7a"/>
<rect x="425.00" y="235.60" width="1.20" height="5.00" fill="#b8557a"/>
<rect x="435.00" y="34.00" width="1.00" height="206.40" fill="#1e2a48"/>
<line x1="435.50" y1="34.30" x2="464.50" y2="34.30" stroke="#111" stroke-width="0.9"/>
<line x1="436.00" y1="32.30" x2="436.00" y2="34.30" stroke="#111" stroke-width="0.8"/>
<line x1="448.60" y1="32.30" x2="448.60" y2="34.30" stroke="#111" stroke-width="0.8"/>
<line x1="461.50" y1="32.30" x2="461.50" y2="34.30" stroke="#111" stroke-width="0.8"/>
<text x="435.20" y="27.26" font-size="6" text-anchor="middle" fill="#333" stroke="#333" stroke-width="0.15">0</text>
<text x="448.60" y="27.26" font-size="6" text-anchor="middle" fill="#333" stroke="#333" stroke-width="0.15">50</text>
<text x="461.60" y="27.26" font-size="6" text-anchor="middle" fill="#333" stroke="#333" stroke-width="0.15">100</text>
<rect x="436.00" y="37.80" width="3.80" height="4.60" fill="#3fb2d2"/>
<rect x="439.80" y="37.80" width="13.51" height="4.60" fill="#5b1f6c"/>
<rect x="453.31" y="37.80" width="2.38" height="4.60" fill="#7a1747"/>
<rect x="436.00" y="43.80" width="3.30" height="4.60" fill="#5e1848"/>
<rect x="436.00" y="49.80" width="1.00" height="4.60" fill="#3fb2d2"/>
<rect x="437.00" y="49.80" width="10.88" height="4.60" fill="#5b1f6c"/>
<rect x="447.88" y="49.80" width="1.92" height="4.60" fill="#7a1747"/>
<rect x="436.00" y="55.80" width="6.00" height="4.60" fill="#5e1848"/>
<rect x="436.00" y="61.80" width="5.00" height="4.60" fill="#5e1848"/>
<rect x="436.00" y="67.80" width="1.80" height="4.60" fill="#5e1848"/>
<rect x="436.00" y="73.80" width="12.41" height="4.60" fill="#5b1f6c"/>
<rect x="448.41" y="73.80" width="2.19" height="4.60" fill="#7a1747"/>
<rect x="436.00" y="79.80" width="2.00" height="4.60" fill="#3fb2d2"/>
<rect x="438.00" y="79.80" width="5.80" height="4.60" fill="#5e1848"/>
<rect x="436.00" y="85.80" width="5.00" height="4.60" fill="#5e1848"/>
<rect x="436.00" y="91.80" width="1.30" height="4.60" fill="#5e1848"/>
<rect x="436.00" y="97.80" width="16.06" height="4.60" fill="#5b1f6c"/>
<rect x="452.06" y="97.80" width="2.83" height="4.60" fill="#7a1747"/>
<rect x="436.00" y="103.80" width="6.63" height="4.60" fill="#5b1f6c"/>
<rect x="442.63" y="103.80" width="1.17" height="4.60" fill="#7a1747"/>
<rect x="436.00" y="109.80" width="3.00" height="4.60" fill="#5e1848"/>
<rect x="436.00" y="115.80" width="6.00" height="4.60" fill="#5e1848"/>
<rect x="436.00" y="121.80" width="3.80" height="4.60" fill="#5e1848"/>
<rect x="436.00" y="127.80" width="0.80" height="4.60" fill="#3fb2d2"/>
<rect x="436.80" y="127.80" width="3.00" height="4.60" fill="#5e1848"/>
<rect x="436.00" y="133.80" width="3.80" height="4.60" fill="#5e1848"/>
<rect x="436.00" y="139.80" width="0.80" height="4.60" fill="#3fb2d2"/>
<rect x="436.80" y="139.80" width="3.70" height="4.60" fill="#5e1848"/>
<rect x="436.00" y="145.80" width="3.80" height="4.60" fill="#5e1848"/>
<rect x="436.00" y="157.80" width="1.00" height="4.60" fill="#3fb2d2"/>
<rect x="437.00" y="157.80" width="8.84" height="4.60" fill="#5b1f6c"/>
<rect x="445.84" y="157.80" width="1.56" height="4.60" fill="#7a1747"/>
<rect x="436.00" y="163.80" width="1.20" height="4.60" fill="#3fb2d2"/>
<rect x="437.20" y="163.80" width="14.28" height="4.60" fill="#5b1f6c"/>
<rect x="451.48" y="163.80" width="2.52" height="4.60" fill="#7a1747"/>
<rect x="436.00" y="169.80" width="1.80" height="4.60" fill="#5e1848"/>
<rect x="436.00" y="175.80" width="1.80" height="4.60" fill="#5e1848"/>
<rect x="436.00" y="181.80" width="2.80" height="4.60" fill="#5e1848"/>
<rect x="436.00" y="187.80" width="1.50" height="4.60" fill="#5e1848"/>
<rect x="436.00" y="193.80" width="1.30" height="4.60" fill="#5e1848"/>
<rect x="436.00" y="199.80" width="2.60" height="4.60" fill="#5e1848"/>
<rect x="436.00" y="205.80" width="1.30" height="4.60" fill="#5e1848"/>
<rect x="436.00" y="211.80" width="2.30" height="4.60" fill="#5e1848"/>
<rect x="436.00" y="217.80" width="3.70" height="4.60" fill="#5e1848"/>
<rect x="436.00" y="223.80" width="7.06" height="4.60" fill="#5b1f6c"/>
<rect x="443.06" y="223.80" width="1.25" height="4.60" fill="#7a1747"/>
<rect x="436.00" y="229.80" width="2.00" height="4.60" fill="#5e1848"/>
<rect x="436.00" y="235.80" width="1.30" height="4.60" fill="#5e1848"/>
<text x="474.00" y="103.22" font-size="5.3" text-anchor="start" fill="#333" stroke="#333" stroke-width="0.15" textLength="21.96" lengthAdjust="spacingAndGlyphs">Response</text>
<rect x="474.00" y="106.30" width="1.60" height="4.40" fill="#7b1a3c"/>
<text x="478.00" y="110.32" font-size="5.3" text-anchor="start" fill="#333" stroke="#333" stroke-width="0.15" textLength="7.12" lengthAdjust="spacingAndGlyphs">CR</text>
<rect x="474.00" y="112.45" width="1.60" height="4.40" fill="#c2357f"/>
<text x="478.00" y="116.47" font-size="5.3" text-anchor="start" fill="#333" stroke="#333" stroke-width="0.15" textLength="11.23" lengthAdjust="spacingAndGlyphs">mCR</text>
<rect x="474.00" y="118.60" width="1.60" height="4.40" fill="#f0b070"/>
<text x="478.00" y="122.62" font-size="5.3" text-anchor="start" fill="#333" stroke="#333" stroke-width="0.15" textLength="6.85" lengthAdjust="spacingAndGlyphs">PR</text>
<rect x="474.00" y="124.75" width="1.60" height="4.40" fill="#6aa860"/>
<text x="478.00" y="128.77" font-size="5.3" text-anchor="start" fill="#333" stroke="#333" stroke-width="0.15" textLength="6.85" lengthAdjust="spacingAndGlyphs">SD</text>
<rect x="474.00" y="130.90" width="1.60" height="4.40" fill="#3a2a34"/>
<text x="478.00" y="134.92" font-size="5.3" text-anchor="start" fill="#333" stroke="#333" stroke-width="0.15" textLength="6.85" lengthAdjust="spacingAndGlyphs">PD</text>
<rect x="474.00" y="137.05" width="1.60" height="4.40" fill="#cfcfd4"/>
<text x="478.00" y="141.07" font-size="5.3" text-anchor="start" fill="#333" stroke="#333" stroke-width="0.15" textLength="7.94" lengthAdjust="spacingAndGlyphs">Fail</text>
<text x="474.00" y="155.82" font-size="5.3" text-anchor="start" fill="#333" stroke="#333" stroke-width="0.15" textLength="30.42" lengthAdjust="spacingAndGlyphs">Clone change</text>
<rect x="474.00" y="159.00" width="1.60" height="4.40" fill="#5aa8d8"/>
<text x="478.00" y="163.02" font-size="5.3" text-anchor="start" fill="#333" stroke="#333" stroke-width="0.15" textLength="27.95" lengthAdjust="spacingAndGlyphs">Disappeared</text>
<rect x="474.00" y="165.30" width="1.60" height="4.40" fill="#3a2a5a"/>
<text x="478.00" y="169.32" font-size="5.3" text-anchor="start" fill="#333" stroke="#333" stroke-width="0.15" textLength="15.89" lengthAdjust="spacingAndGlyphs">Shared</text>
<rect x="474.00" y="171.60" width="1.60" height="4.40" fill="#8a1a3a"/>
<text x="478.00" y="175.62" font-size="5.3" text-anchor="start" fill="#333" stroke="#333" stroke-width="0.15" textLength="35.62" lengthAdjust="spacingAndGlyphs">Newly appeared</text>
<text x="83.00" y="265.78" font-size="11" text-anchor="start" fill="#111" stroke="#111" stroke-width="0.4" font-weight="bold">B</text>
<text x="138.00" y="287.20" font-size="6.4" text-anchor="start" fill="#222" stroke="#222" stroke-width="0.15" textLength="46.2" lengthAdjust="spacingAndGlyphs">Case #PPM1D-1,</text>
<text x="138.00" y="294.40" font-size="6.4" text-anchor="start" fill="#222" stroke="#222" stroke-width="0.15" textLength="55.8" lengthAdjust="spacingAndGlyphs">Pre-treatment sample</text>
<rect x="137.50" y="298.60" width="67.00" height="36.60" fill="#ffffff"/>
<defs><linearGradient id="gbl" x1="0" x2="1" y1="0" y2="0"><stop offset="0" stop-color="#2a47a8"/><stop offset="1" stop-color="#3350b0"/></linearGradient><linearGradient id="gaf" x1="0" x2="1" y1="0" y2="0"><stop offset="0" stop-color="#ffffff"/><stop offset="0.5" stop-color="#8e9ad0"/><stop offset="1" stop-color="#2a3c98"/></linearGradient><linearGradient id="grs" x1="0" x2="1" y1="0" y2="0"><stop offset="0" stop-color="#8a98cc"/><stop offset="1" stop-color="#3c4ea8"/></linearGradient><marker id="ah" markerWidth="6" markerHeight="6" refX="5" refY="3" orient="auto-start-reverse" markerUnits="userSpaceOnUse"><path d="M0,0 L6,3 L0,6 z" fill="#111"/></marker><marker id="ahs" markerWidth="3.2" markerHeight="3" refX="3" refY="1.5" orient="auto-start-reverse" markerUnits="userSpaceOnUse"><path d="M0,0 L3.2,1.5 L0,3 z" fill="#111"/></marker></defs>
<rect x="137.90" y="299.00" width="11.30" height="17.20" fill="#2a47a8"/>
<rect x="200.90" y="316.50" width="3.60" height="18.70" fill="url(#grs)"/>
<rect x="137.5" y="298.6" width="67.0" height="36.6" fill="none" stroke="#333" stroke-width="1.15"/>
<text x="135.30" y="309.63" font-size="6.2" text-anchor="end" fill="#222" stroke="#222" stroke-width="0.15"><tspan font-style="italic">TP53</tspan>, c.993+2T&gt;G</text>
<text x="135.30" y="326.93" font-size="6.2" text-anchor="end" fill="#222" stroke="#222" stroke-width="0.15"><tspan font-style="italic">PPM1D</tspan>, p.S432fs</text>
<line x1="140" y1="339.3" x2="202.5" y2="339.3" stroke="#111" stroke-width="1.1" marker-end="url(#ah)" marker-start="url(#ah)"/>
<text x="170.60" y="347.93" font-size="6.2" text-anchor="middle" fill="#222" stroke="#222" stroke-width="0.15">5,080 cells</text>
<text x="139.20" y="363.24" font-size="6.5" text-anchor="middle" fill="#222" stroke="#222" stroke-width="0.15">0</text>
<text x="167.00" y="363.24" font-size="6.5" text-anchor="middle" fill="#222" stroke="#222" stroke-width="0.15">1</text>
<rect x="140.40" y="366.20" width="26.90" height="6.60" fill="url(#gaf)"/>
<text x="139.60" y="381.77" font-size="6.6" text-anchor="start" fill="#222" stroke="#222" stroke-width="0.15" textLength="41" lengthAdjust="spacingAndGlyphs">Allele frequency</text>
<text x="219.80" y="265.28" font-size="11" text-anchor="start" fill="#111" stroke="#111" stroke-width="0.4" font-weight="bold">C</text>
<line x1="249.70" y1="278.90" x2="249.70" y2="348.50" stroke="#222" stroke-width="1.1"/>
<line x1="249.20" y1="348.00" x2="318.50" y2="348.00" stroke="#222" stroke-width="1.1"/>
<text x="245.10" y="281.06" font-size="5.4" text-anchor="middle" fill="#333" stroke="#333" stroke-width="0.15">1</text>
<text x="245.10" y="346.06" font-size="5.4" text-anchor="middle" fill="#333" stroke="#333" stroke-width="0.15">0</text>
<text x="252.30" y="356.26" font-size="5.4" text-anchor="middle" fill="#333" stroke="#333" stroke-width="0.15">0</text>
<text x="318.00" y="356.26" font-size="5.4" text-anchor="middle" fill="#333" stroke="#333" stroke-width="0.15">1</text>
<text x="284.20" y="367.35" font-size="7.4" text-anchor="middle" fill="#222" stroke="#222" stroke-width="0.4" textLength="39.8" lengthAdjust="spacingAndGlyphs">Clone size (pre)</text>
<text x="235.90" y="316.05" font-size="7.4" text-anchor="middle" fill="#222" stroke="#222" stroke-width="0.4" textLength="41.6" lengthAdjust="spacingAndGlyphs" transform="rotate(-90 235.90 313.50)">Clone size (post)</text>
<line x1="295.9" y1="279" x2="295.9" y2="348" stroke="#72798a" stroke-width="1.1" stroke-dasharray="3,1.8"/>
<line x1="305.9" y1="279" x2="305.9" y2="348" stroke="#72798a" stroke-width="1.1" stroke-dasharray="3,1.8"/>
<line x1="296.6" y1="277.7" x2="305.2" y2="277.7" stroke="#111" stroke-width="0.8" marker-end="url(#ahs)" marker-start="url(#ahs)"/>
<text x="300.80" y="273.08" font-size="4.6" text-anchor="middle" fill="#333" stroke="#333" stroke-width="0.15">0.1</text>
<circle cx="255.30" cy="310.50" r="2.60" fill="#d9d9d9" stroke="#555" stroke-width="0.8"/>
<circle cx="285.70" cy="327.80" r="2.60" fill="#d9d9d9" stroke="#555" stroke-width="0.8"/>
<circle cx="274.00" cy="338.70" r="2.60" fill="#d9d9d9" stroke="#555" stroke-width="0.8"/>
<circle cx="302.40" cy="304.30" r="2.70" fill="#5e6479" stroke="#3a3f50" stroke-width="0.6"/>
<circle cx="297.30" cy="314.00" r="2.70" fill="#5e6479" stroke="#3a3f50" stroke-width="0.6"/>
<circle cx="306.00" cy="310.70" r="2.70" fill="#5e6479" stroke="#3a3f50" stroke-width="0.6"/>
<circle cx="302.80" cy="333.10" r="2.70" fill="#5e6479" stroke="#3a3f50" stroke-width="0.6"/>
<line x1="320.8" y1="318" x2="333.5" y2="318" stroke="#111" stroke-width="1" marker-end="url(#ahs)"/>
<line x1="353.90" y1="278.50" x2="353.90" y2="347.60" stroke="#222" stroke-width="1.1"/>
<line x1="353.40" y1="347.10" x2="423.00" y2="347.10" stroke="#222" stroke-width="1.1"/>
<text x="349.30" y="280.66" font-size="5.4" text-anchor="middle" fill="#333" stroke="#333" stroke-width="0.15">1</text>
<text x="349.30" y="345.16" font-size="5.4" text-anchor="middle" fill="#333" stroke="#333" stroke-width="0.15">0</text>
<text x="356.50" y="355.36" font-size="5.4" text-anchor="middle" fill="#333" stroke="#333" stroke-width="0.15">0</text>
<text x="422.50" y="355.36" font-size="5.4" text-anchor="middle" fill="#333" stroke="#333" stroke-width="0.15">1</text>
<text x="388.00" y="367.75" font-size="7.4" text-anchor="middle" fill="#222" stroke="#222" stroke-width="0.4" textLength="39.8" lengthAdjust="spacingAndGlyphs">Clone size (pre)</text>
<text x="340.40" y="314.55" font-size="7.4" text-anchor="middle" fill="#222" stroke="#222" stroke-width="0.4" textLength="41.6" lengthAdjust="spacingAndGlyphs" transform="rotate(-90 340.40 312.00)">Clone size (post)</text>
<line x1="400.7" y1="279" x2="400.7" y2="347" stroke="#c4c4c4" stroke-width="1.1" stroke-dasharray="3,1.8"/>
<line x1="410.4" y1="279" x2="410.4" y2="347" stroke="#c4c4c4" stroke-width="1.1" stroke-dasharray="3,1.8"/>
<line x1="354" y1="304.6" x2="425.8" y2="304.6" stroke="#4a5670" stroke-width="1.1" stroke-dasharray="3,1.8"/>
<line x1="354" y1="314.8" x2="425.8" y2="314.8" stroke="#4a5670" stroke-width="1.1" stroke-dasharray="3,1.8"/>
<line x1="427" y1="305.5" x2="427" y2="313.9" stroke="#111" stroke-width="0.8" marker-end="url(#ahs)" marker-start="url(#ahs)"/>
<text x="434.00" y="310.98" font-size="4.6" text-anchor="middle" fill="#333" stroke="#333" stroke-width="0.15">0.1</text>
<circle cx="360.60" cy="307.30" r="2.60" fill="#d9d9d9" stroke="#555" stroke-width="0.8"/>
<circle cx="390.20" cy="327.70" r="2.60" fill="#d9d9d9" stroke="#555" stroke-width="0.8"/>
<circle cx="378.70" cy="338.50" r="2.60" fill="#d9d9d9" stroke="#555" stroke-width="0.8"/>
<circle cx="407.50" cy="333.10" r="2.70" fill="#6b7388" stroke="#4a5064" stroke-width="0.6"/>
<circle cx="407.50" cy="304.00" r="2.80" fill="#111" stroke="#000" stroke-width="0.4"/>
<circle cx="402.40" cy="314.00" r="2.80" fill="#111" stroke="#000" stroke-width="0.4"/>
<circle cx="410.40" cy="310.80" r="2.80" fill="#111" stroke="#000" stroke-width="0.4"/>
<circle cx="406.00" cy="308.90" r="0.90" fill="#7a1a2a" stroke="none" stroke-width="0"/>
<circle cx="251.00" cy="378.10" r="2.70" fill="#5e6479" stroke="#3a3f50" stroke-width="0.6"/>
<text x="258.00" y="379.89" font-size="5.2" text-anchor="start" fill="#333" stroke="#333" stroke-width="0.06" textLength="49.3" lengthAdjust="spacingAndGlyphs">The largest clones in a</text>
<text x="258.00" y="386.72" font-size="5.0" text-anchor="start" fill="#333" stroke="#333" stroke-width="0.06">pre-treatment sample (MC<tspan font-size="3.4" dy="-2">pre</tspan>)</text>
<circle cx="356.60" cy="378.30" r="3.00" fill="#111" stroke="none" stroke-width="0"/>
<text x="362.50" y="380.09" font-size="5.2" text-anchor="start" fill="#333" stroke="#333" stroke-width="0.06">Major clones (MC)</text>
<circle cx="357.80" cy="387.30" r="1.00" fill="#5a1424" stroke="none" stroke-width="0"/>
<text x="362.50" y="389.09" font-size="5.2" text-anchor="start" fill="#333" stroke="#333" stroke-width="0.06">Size of MC group</text>
<text x="362.50" y="394.69" font-size="5.2" text-anchor="start" fill="#333" stroke="#333" stroke-width="0.06" textLength="52.4" lengthAdjust="spacingAndGlyphs">(ave_MC<tspan font-size="3.4" dy="-2">pre</tspan><tspan dy="2">, ave_MC</tspan><tspan font-size="3.4" dy="-2">post</tspan><tspan dy="2">)</tspan></text>
<text x="35.00" y="420.28" font-size="11" text-anchor="start" fill="#111" stroke="#111" stroke-width="0.4" font-weight="bold">D</text>
<line x1="60.40" y1="434.50" x2="60.40" y2="505.80" stroke="#222" stroke-width="1.1"/>
<line x1="59.90" y1="505.30" x2="230.20" y2="505.30" stroke="#222" stroke-width="1.1"/>
<line x1="57.50" y1="502.30" x2="60.40" y2="502.30" stroke="#222" stroke-width="0.9"/>
<text x="54.40" y="504.40" font-size="6.1" text-anchor="end" fill="#333" stroke="#333" stroke-width="0.15">0</text>
<line x1="57.50" y1="486.00" x2="60.40" y2="486.00" stroke="#222" stroke-width="0.9"/>
<text x="54.40" y="488.10" font-size="6.1" text-anchor="end" fill="#333" stroke="#333" stroke-width="0.15">20</text>
<line x1="57.50" y1="469.70" x2="60.40" y2="469.70" stroke="#222" stroke-width="0.9"/>
<text x="54.40" y="471.80" font-size="6.1" text-anchor="end" fill="#333" stroke="#333" stroke-width="0.15">40</text>
<line x1="57.50" y1="453.40" x2="60.40" y2="453.40" stroke="#222" stroke-width="0.9"/>
<text x="54.40" y="455.50" font-size="6.1" text-anchor="end" fill="#333" stroke="#333" stroke-width="0.15">60</text>
<line x1="57.50" y1="437.10" x2="60.40" y2="437.10" stroke="#222" stroke-width="0.9"/>
<text x="54.40" y="439.20" font-size="6.1" text-anchor="end" fill="#333" stroke="#333" stroke-width="0.15">80</text>
<line x1="229.70" y1="427.70" x2="229.70" y2="505.80" stroke="#222" stroke-width="1.1"/>
<line x1="229.70" y1="501.70" x2="232.50" y2="501.70" stroke="#222" stroke-width="0.9"/>
<text x="235.90" y="503.76" font-size="6.0" text-anchor="start" fill="#333" stroke="#333" stroke-width="0.15">0</text>
<line x1="229.70" y1="483.57" x2="232.50" y2="483.57" stroke="#222" stroke-width="0.9"/>
<text x="235.90" y="485.64" font-size="6.0" text-anchor="start" fill="#333" stroke="#333" stroke-width="0.15">25</text>
<line x1="229.70" y1="465.45" x2="232.50" y2="465.45" stroke="#222" stroke-width="0.9"/>
<text x="235.90" y="467.51" font-size="6.0" text-anchor="start" fill="#333" stroke="#333" stroke-width="0.15">50</text>
<line x1="229.70" y1="447.32" x2="232.50" y2="447.32" stroke="#222" stroke-width="0.9"/>
<text x="235.90" y="449.39" font-size="6.0" text-anchor="start" fill="#333" stroke="#333" stroke-width="0.15">75</text>
<line x1="229.70" y1="429.20" x2="232.50" y2="429.20" stroke="#222" stroke-width="0.9"/>
<text x="235.90" y="431.26" font-size="6.0" text-anchor="start" fill="#333" stroke="#333" stroke-width="0.15">100</text>
<rect x="61.60" y="447.00" width="9.45" height="55.30" fill="#a7b98a"/>
<line x1="66.33" y1="505.30" x2="66.33" y2="508.00" stroke="#222" stroke-width="0.9"/>
<rect x="72.05" y="470.30" width="9.45" height="32.00" fill="#a7b98a"/>
<line x1="76.77" y1="505.30" x2="76.77" y2="508.00" stroke="#222" stroke-width="0.9"/>
<rect x="82.50" y="473.10" width="9.45" height="29.20" fill="#a7b98a"/>
<line x1="87.22" y1="505.30" x2="87.22" y2="508.00" stroke="#222" stroke-width="0.9"/>
<rect x="92.95" y="481.90" width="9.45" height="20.40" fill="#a7b98a"/>
<line x1="97.67" y1="505.30" x2="97.67" y2="508.00" stroke="#222" stroke-width="0.9"/>
<rect x="103.40" y="484.20" width="9.45" height="18.10" fill="#a7b98a"/>
<line x1="108.12" y1="505.30" x2="108.12" y2="508.00" stroke="#222" stroke-width="0.9"/>
<rect x="113.85" y="487.00" width="9.45" height="15.30" fill="#a7b98a"/>
<line x1="118.57" y1="505.30" x2="118.57" y2="508.00" stroke="#222" stroke-width="0.9"/>
<rect x="124.30" y="487.70" width="9.45" height="14.60" fill="#a7b98a"/>
<line x1="129.03" y1="505.30" x2="129.03" y2="508.00" stroke="#222" stroke-width="0.9"/>
<rect x="134.75" y="487.70" width="9.45" height="14.60" fill="#a7b98a"/>
<line x1="139.47" y1="505.30" x2="139.47" y2="508.00" stroke="#222" stroke-width="0.9"/>
<rect x="145.20" y="488.60" width="9.45" height="13.70" fill="#a7b98a"/>
<line x1="149.92" y1="505.30" x2="149.92" y2="508.00" stroke="#222" stroke-width="0.9"/>
<rect x="155.65" y="490.00" width="9.45" height="12.30" fill="#a7b98a"/>
<line x1="160.38" y1="505.30" x2="160.38" y2="508.00" stroke="#222" stroke-width="0.9"/>
<rect x="166.10" y="491.80" width="9.45" height="10.50" fill="#a7b98a"/>
<line x1="170.82" y1="505.30" x2="170.82" y2="508.00" stroke="#222" stroke-width="0.9"/>
<rect x="176.55" y="493.00" width="9.45" height="9.30" fill="#a7b98a"/>
<line x1="181.27" y1="505.30" x2="181.27" y2="508.00" stroke="#222" stroke-width="0.9"/>
<rect x="187.00" y="495.00" width="9.45" height="7.30" fill="#a7b98a"/>
<line x1="191.72" y1="505.30" x2="191.72" y2="508.00" stroke="#222" stroke-width="0.9"/>
<rect x="197.45" y="497.50" width="9.45" height="4.80" fill="#a7b98a"/>
<line x1="202.17" y1="505.30" x2="202.17" y2="508.00" stroke="#222" stroke-width="0.9"/>
<rect x="207.90" y="497.50" width="9.45" height="4.80" fill="#a7b98a"/>
<line x1="212.62" y1="505.30" x2="212.62" y2="508.00" stroke="#222" stroke-width="0.9"/>
<rect x="218.35" y="497.50" width="9.45" height="4.80" fill="#a7b98a"/>
<line x1="223.07" y1="505.30" x2="223.07" y2="508.00" stroke="#222" stroke-width="0.9"/>
<circle cx="66.10" cy="444.00" r="2.30" fill="#ad0f2b" stroke="none" stroke-width="0"/>
<text x="68.92" y="513.40" font-size="6.3" font-style="italic" text-anchor="end" fill="#333" stroke="#333" stroke-width="0.12" textLength="14.00" lengthAdjust="spacingAndGlyphs" transform="rotate(-45 68.92 513.40)">TP53</text>
<circle cx="76.50" cy="475.00" r="2.30" fill="#ad0f2b" stroke="none" stroke-width="0"/>
<text x="79.37" y="513.40" font-size="6.3" font-style="italic" text-anchor="end" fill="#333" stroke="#333" stroke-width="0.12" textLength="14.32" lengthAdjust="spacingAndGlyphs" transform="rotate(-45 79.37 513.40)">TET2</text>
<circle cx="86.90" cy="454.40" r="2.30" fill="#ad0f2b" stroke="none" stroke-width="0"/>
<text x="89.82" y="513.40" font-size="6.3" font-style="italic" text-anchor="end" fill="#333" stroke="#333" stroke-width="0.12" textLength="18.88" lengthAdjust="spacingAndGlyphs" transform="rotate(-45 89.82 513.40)">SRSF2</text>
<circle cx="96.80" cy="478.90" r="2.30" fill="#ad0f2b" stroke="none" stroke-width="0"/>
<text x="100.27" y="513.40" font-size="6.3" font-style="italic" text-anchor="end" fill="#333" stroke="#333" stroke-width="0.12" textLength="19.86" lengthAdjust="spacingAndGlyphs" transform="rotate(-45 100.27 513.40)">RUNX1</text>
<circle cx="107.20" cy="451.20" r="2.30" fill="#ad0f2b" stroke="none" stroke-width="0"/>
<text x="110.72" y="513.40" font-size="6.3" font-style="italic" text-anchor="end" fill="#333" stroke="#333" stroke-width="0.12" textLength="24.09" lengthAdjust="spacingAndGlyphs" transform="rotate(-45 110.72 513.40)">DNMT3A</text>
<circle cx="117.40" cy="463.20" r="2.30" fill="#ad0f2b" stroke="none" stroke-width="0"/>
<text x="121.17" y="513.40" font-size="6.3" font-style="italic" text-anchor="end" fill="#333" stroke="#333" stroke-width="0.12" textLength="14.98" lengthAdjust="spacingAndGlyphs" transform="rotate(-45 121.17 513.40)">EZH2</text>
<circle cx="127.70" cy="433.90" r="2.30" fill="#ad0f2b" stroke="none" stroke-width="0"/>
<text x="131.62" y="513.40" font-size="6.3" font-style="italic" text-anchor="end" fill="#333" stroke="#333" stroke-width="0.12" textLength="21.82" lengthAdjust="spacingAndGlyphs" transform="rotate(-45 131.62 513.40)">DDX41s</text>
<circle cx="138.10" cy="443.30" r="2.30" fill="#ad0f2b" stroke="none" stroke-width="0"/>
<text x="142.07" y="513.40" font-size="6.3" font-style="italic" text-anchor="end" fill="#333" stroke="#333" stroke-width="0.12" textLength="18.23" lengthAdjust="spacingAndGlyphs" transform="rotate(-45 142.07 513.40)">U2AF1</text>
<circle cx="148.10" cy="480.00" r="2.30" fill="#ad0f2b" stroke="none" stroke-width="0"/>
<text x="152.52" y="513.40" font-size="6.3" font-style="italic" text-anchor="end" fill="#333" stroke="#333" stroke-width="0.12" textLength="18.24" lengthAdjust="spacingAndGlyphs" transform="rotate(-45 152.52 513.40)">ASXL1</text>
<circle cx="158.50" cy="478.90" r="2.30" fill="#ad0f2b" stroke="none" stroke-width="0"/>
<text x="162.97" y="513.40" font-size="6.3" font-style="italic" text-anchor="end" fill="#333" stroke="#333" stroke-width="0.12" textLength="19.21" lengthAdjust="spacingAndGlyphs" transform="rotate(-45 162.97 513.40)">STAG2</text>
<circle cx="168.70" cy="453.00" r="2.30" fill="#ad0f2b" stroke="none" stroke-width="0"/>
<text x="173.42" y="513.40" font-size="6.3" font-style="italic" text-anchor="end" fill="#333" stroke="#333" stroke-width="0.12" textLength="13.35" lengthAdjust="spacingAndGlyphs" transform="rotate(-45 173.42 513.40)">IDH2</text>
<circle cx="178.80" cy="460.80" r="2.30" fill="#ad0f2b" stroke="none" stroke-width="0"/>
<text x="183.87" y="513.40" font-size="6.3" font-style="italic" text-anchor="end" fill="#333" stroke="#333" stroke-width="0.12" textLength="17.91" lengthAdjust="spacingAndGlyphs" transform="rotate(-45 183.87 513.40)">SF3B1</text>
<circle cx="189.20" cy="461.90" r="2.30" fill="#ad0f2b" stroke="none" stroke-width="0"/>
<text x="194.32" y="513.40" font-size="6.3" font-style="italic" text-anchor="end" fill="#333" stroke="#333" stroke-width="0.12" textLength="22.47" lengthAdjust="spacingAndGlyphs" transform="rotate(-45 194.32 513.40)">SETBP1</text>
<circle cx="199.40" cy="479.60" r="2.30" fill="#ad0f2b" stroke="none" stroke-width="0"/>
<text x="204.77" y="513.40" font-size="6.3" font-style="italic" text-anchor="end" fill="#333" stroke="#333" stroke-width="0.12" textLength="16.93" lengthAdjust="spacingAndGlyphs" transform="rotate(-45 204.77 513.40)">BCOR</text>
<circle cx="210.00" cy="471.50" r="2.30" fill="#ad0f2b" stroke="none" stroke-width="0"/>
<text x="215.22" y="513.40" font-size="6.3" font-style="italic" text-anchor="end" fill="#333" stroke="#333" stroke-width="0.12" textLength="15.63" lengthAdjust="spacingAndGlyphs" transform="rotate(-45 215.22 513.40)">CUX1</text>
<circle cx="220.00" cy="469.00" r="2.30" fill="#ad0f2b" stroke="none" stroke-width="0"/>
<text x="225.67" y="513.40" font-size="6.3" font-style="italic" text-anchor="end" fill="#333" stroke="#333" stroke-width="0.12" textLength="14.98" lengthAdjust="spacingAndGlyphs" transform="rotate(-45 225.67 513.40)">PHF6</text>
<text x="39.40" y="464.35" font-size="7.4" text-anchor="middle" fill="#222" stroke="#222" stroke-width="0.4" textLength="39" lengthAdjust="spacingAndGlyphs" transform="rotate(-90 39.40 461.80)">Number of MCs</text>
<rect x="37.20" y="484.30" width="5.00" height="4.80" fill="#a7b98a"/>
<circle cx="253.70" cy="432.50" r="2.20" fill="#b0102c" stroke="none" stroke-width="0"/>
<text x="254.30" y="471.61" font-size="7.0" text-anchor="middle" fill="#222" stroke="#222" stroke-width="0.4" textLength="63.4" lengthAdjust="spacingAndGlyphs" transform="rotate(90 254.30 469.20)">%(included in MC group)</text>
<text x="144.60" y="543.25" font-size="7.4" text-anchor="middle" fill="#222" stroke="#222" stroke-width="0.4" textLength="15.4" lengthAdjust="spacingAndGlyphs">Genes</text>
<text x="273.50" y="420.78" font-size="11" text-anchor="start" fill="#111" stroke="#111" stroke-width="0.4" font-weight="bold">E</text>
<line x1="303.20" y1="426.00" x2="303.20" y2="585.80" stroke="#222" stroke-width="1.1"/>
<line x1="302.70" y1="585.30" x2="453.30" y2="585.30" stroke="#222" stroke-width="1.1"/>
<line x1="300.30" y1="578.30" x2="303.20" y2="578.30" stroke="#222" stroke-width="0.9"/>
<text x="297.20" y="580.35" font-size="5.95" text-anchor="end" fill="#333" stroke="#333" stroke-width="0.15">0.00</text>
<line x1="300.30" y1="563.82" x2="303.20" y2="563.82" stroke="#222" stroke-width="0.9"/>
<text x="297.20" y="565.87" font-size="5.95" text-anchor="end" fill="#333" stroke="#333" stroke-width="0.15">0.10</text>
<line x1="300.30" y1="542.10" x2="303.20" y2="542.10" stroke="#222" stroke-width="0.9"/>
<text x="297.20" y="544.15" font-size="5.95" text-anchor="end" fill="#333" stroke="#333" stroke-width="0.15">0.25</text>
<line x1="300.30" y1="505.90" x2="303.20" y2="505.90" stroke="#222" stroke-width="0.9"/>
<text x="297.20" y="507.95" font-size="5.95" text-anchor="end" fill="#333" stroke="#333" stroke-width="0.15">0.50</text>
<line x1="300.30" y1="469.70" x2="303.20" y2="469.70" stroke="#222" stroke-width="0.9"/>
<text x="297.20" y="471.75" font-size="5.95" text-anchor="end" fill="#333" stroke="#333" stroke-width="0.15">0.75</text>
<line x1="300.30" y1="433.50" x2="303.20" y2="433.50" stroke="#222" stroke-width="0.9"/>
<text x="297.20" y="435.55" font-size="5.95" text-anchor="end" fill="#333" stroke="#333" stroke-width="0.15">1.00</text>
<line x1="304" y1="563.82" x2="470.6" y2="563.82" stroke="#c4c4c4" stroke-width="0.9" stroke-dasharray="2.6,2.2"/>
<line x1="320.50" y1="585.30" x2="320.50" y2="588.00" stroke="#222" stroke-width="0.9"/>
<text x="320.50" y="596.77" font-size="6.3" text-anchor="middle" fill="#333" stroke="#333" stroke-width="0.15" textLength="8.83" lengthAdjust="spacingAndGlyphs">CR</text>
<line x1="349.50" y1="585.30" x2="349.50" y2="588.00" stroke="#222" stroke-width="0.9"/>
<text x="349.50" y="596.77" font-size="6.3" text-anchor="middle" fill="#333" stroke="#333" stroke-width="0.15" textLength="24.1" lengthAdjust="spacingAndGlyphs">mCR/PR</text>
<line x1="378.30" y1="585.30" x2="378.30" y2="588.00" stroke="#222" stroke-width="0.9"/>
<text x="378.30" y="596.77" font-size="6.3" text-anchor="middle" fill="#333" stroke="#333" stroke-width="0.15" textLength="18.17" lengthAdjust="spacingAndGlyphs">SD+HI</text>
<line x1="407.40" y1="585.30" x2="407.40" y2="588.00" stroke="#222" stroke-width="0.9"/>
<text x="407.40" y="596.77" font-size="6.3" text-anchor="middle" fill="#333" stroke="#333" stroke-width="0.15" textLength="18.17" lengthAdjust="spacingAndGlyphs">SD−HI</text>
<line x1="436.50" y1="585.30" x2="436.50" y2="588.00" stroke="#222" stroke-width="0.9"/>
<text x="436.50" y="596.77" font-size="6.3" text-anchor="middle" fill="#333" stroke="#333" stroke-width="0.15" textLength="8.49" lengthAdjust="spacingAndGlyphs">PD</text>
<text x="378.00" y="607.65" font-size="7.4" text-anchor="middle" fill="#222" stroke="#222" stroke-width="0.4" textLength="23.1" lengthAdjust="spacingAndGlyphs">Response</text>
<text x="277.50" y="508.55" font-size="7.4" text-anchor="middle" fill="#222" stroke="#222" stroke-width="0.4" textLength="114" lengthAdjust="spacingAndGlyphs" transform="rotate(-90 277.50 506.00)">Size of MC group in post-treatment samples</text>
<line x1="320.50" y1="526.00" x2="320.50" y2="551.50" stroke="#c0143c" stroke-width="0.85"/>
<line x1="320.50" y1="578.50" x2="320.50" y2="578.50" stroke="#c0143c" stroke-width="0.85"/>
<rect x="309.50" y="551.50" width="22.00" height="27.00" fill="none" stroke="#c0143c" stroke-width="0.85"/>
<line x1="309.50" y1="568.50" x2="331.50" y2="568.50" stroke="#c0143c" stroke-width="1.1"/>
<line x1="349.50" y1="433.40" x2="349.50" y2="491.50" stroke="#d4157c" stroke-width="0.85"/>
<line x1="349.50" y1="578.50" x2="349.50" y2="578.50" stroke="#d4157c" stroke-width="0.85"/>
<rect x="338.50" y="491.50" width="22.00" height="87.00" fill="none" stroke="#d4157c" stroke-width="0.85"/>
<line x1="338.50" y1="518.50" x2="360.50" y2="518.50" stroke="#d4157c" stroke-width="1.1"/>
<line x1="378.50" y1="433.20" x2="378.50" y2="462.50" stroke="#3aa2d8" stroke-width="0.85"/>
<line x1="378.50" y1="510.50" x2="378.50" y2="566.60" stroke="#3aa2d8" stroke-width="0.85"/>
<rect x="367.50" y="462.50" width="22.00" height="48.00" fill="none" stroke="#3aa2d8" stroke-width="0.85"/>
<line x1="367.50" y1="484.50" x2="389.50" y2="484.50" stroke="#3aa2d8" stroke-width="1.1"/>
<line x1="407.50" y1="433.40" x2="407.50" y2="445.50" stroke="#3db043" stroke-width="0.85"/>
<line x1="407.50" y1="497.50" x2="407.50" y2="578.30" stroke="#3db043" stroke-width="0.85"/>
<rect x="396.50" y="445.50" width="22.00" height="52.00" fill="none" stroke="#3db043" stroke-width="0.85"/>
<line x1="396.50" y1="462.50" x2="418.50" y2="462.50" stroke="#3db043" stroke-width="1.1"/>
<line x1="436.50" y1="433.40" x2="436.50" y2="443.50" stroke="#7a4a22" stroke-width="0.85"/>
<line x1="436.50" y1="487.50" x2="436.50" y2="540.90" stroke="#7a4a22" stroke-width="0.85"/>
<rect x="425.50" y="443.50" width="21.00" height="44.00" fill="none" stroke="#7a4a22" stroke-width="0.85"/>
<line x1="425.50" y1="459.50" x2="446.50" y2="459.50" stroke="#7a4a22" stroke-width="1.1"/>
<circle cx="326.10" cy="433.40" r="1.20" fill="none" stroke="#b0123c" stroke-width="0.85"/>
<circle cx="318.30" cy="444.50" r="1.20" fill="none" stroke="#b0123c" stroke-width="0.85"/>
<circle cx="319.60" cy="449.40" r="1.45" fill="#b0123c" stroke="#b0123c" stroke-width="0.3"/>
<circle cx="316.40" cy="459.00" r="1.20" fill="none" stroke="#b0123c" stroke-width="0.85"/>
<circle cx="318.80" cy="498.30" r="1.20" fill="none" stroke="#b0123c" stroke-width="0.85"/>
<circle cx="315.00" cy="509.50" r="1.20" fill="none" stroke="#b0123c" stroke-width="0.85"/>
<circle cx="322.00" cy="506.60" r="1.45" fill="#b0123c" stroke="#b0123c" stroke-width="0.3"/>
<circle cx="325.20" cy="526.20" r="1.20" fill="none" stroke="#b0123c" stroke-width="0.85"/>
<circle cx="327.00" cy="531.30" r="1.20" fill="none" stroke="#b0123c" stroke-width="0.85"/>
<circle cx="324.10" cy="534.30" r="1.20" fill="none" stroke="#b0123c" stroke-width="0.85"/>
<circle cx="318.30" cy="535.00" r="1.20" fill="none" stroke="#b0123c" stroke-width="0.85"/>
<circle cx="322.70" cy="545.50" r="1.20" fill="none" stroke="#b0123c" stroke-width="0.85"/>
<circle cx="323.70" cy="553.90" r="1.45" fill="#b0123c" stroke="#b0123c" stroke-width="0.3"/>
<circle cx="326.00" cy="557.60" r="1.20" fill="none" stroke="#b0123c" stroke-width="0.85"/>
<circle cx="318.30" cy="559.80" r="1.45" fill="#b0123c" stroke="#b0123c" stroke-width="0.3"/>
<circle cx="316.10" cy="562.00" r="1.45" fill="#b0123c" stroke="#b0123c" stroke-width="0.3"/>
<circle cx="326.30" cy="561.20" r="1.20" fill="none" stroke="#b0123c" stroke-width="0.85"/>
<circle cx="313.90" cy="565.60" r="1.20" fill="none" stroke="#b0123c" stroke-width="0.85"/>
<circle cx="316.10" cy="566.30" r="1.20" fill="none" stroke="#b0123c" stroke-width="0.85"/>
<circle cx="319.80" cy="564.90" r="1.45" fill="#b0123c" stroke="#b0123c" stroke-width="0.3"/>
<circle cx="321.20" cy="567.00" r="1.45" fill="#b0123c" stroke="#b0123c" stroke-width="0.3"/>
<circle cx="323.10" cy="568.50" r="1.45" fill="#b0123c" stroke="#b0123c" stroke-width="0.3"/>
<circle cx="327.80" cy="567.00" r="1.20" fill="none" stroke="#b0123c" stroke-width="0.85"/>
<circle cx="323.40" cy="573.60" r="1.20" fill="none" stroke="#b0123c" stroke-width="0.85"/>
<circle cx="343.40" cy="434.70" r="1.20" fill="none" stroke="#d01a7a" stroke-width="0.85"/>
<circle cx="346.70" cy="433.40" r="1.45" fill="#d01a7a" stroke="#d01a7a" stroke-width="0.3"/>
<circle cx="348.00" cy="433.40" r="1.45" fill="#d01a7a" stroke="#d01a7a" stroke-width="0.3"/>
<circle cx="353.20" cy="433.40" r="1.20" fill="none" stroke="#d01a7a" stroke-width="0.85"/>
<circle cx="349.30" cy="457.40" r="1.45" fill="#d01a7a" stroke="#d01a7a" stroke-width="0.3"/>
<circle cx="357.00" cy="455.10" r="1.20" fill="none" stroke="#d01a7a" stroke-width="0.85"/>
<circle cx="355.10" cy="464.60" r="1.20" fill="none" stroke="#d01a7a" stroke-width="0.85"/>
<circle cx="347.70" cy="477.50" r="1.20" fill="none" stroke="#d01a7a" stroke-width="0.85"/>
<circle cx="351.60" cy="479.50" r="1.20" fill="none" stroke="#d01a7a" stroke-width="0.85"/>
<circle cx="354.70" cy="477.90" r="1.20" fill="none" stroke="#d01a7a" stroke-width="0.85"/>
<circle cx="354.20" cy="481.00" r="1.20" fill="none" stroke="#d01a7a" stroke-width="0.85"/>
<circle cx="357.30" cy="484.90" r="1.20" fill="none" stroke="#d01a7a" stroke-width="0.85"/>
<circle cx="353.40" cy="489.90" r="1.20" fill="none" stroke="#d01a7a" stroke-width="0.85"/>
<circle cx="353.40" cy="492.40" r="1.20" fill="none" stroke="#d01a7a" stroke-width="0.85"/>
<circle cx="343.00" cy="493.10" r="1.45" fill="#d01a7a" stroke="#d01a7a" stroke-width="0.3"/>
<circle cx="343.80" cy="495.70" r="1.45" fill="#d01a7a" stroke="#d01a7a" stroke-width="0.3"/>
<circle cx="348.60" cy="495.40" r="1.45" fill="#d01a7a" stroke="#d01a7a" stroke-width="0.3"/>
<circle cx="353.80" cy="497.00" r="1.20" fill="none" stroke="#d01a7a" stroke-width="0.85"/>
<circle cx="355.10" cy="498.90" r="1.20" fill="none" stroke="#d01a7a" stroke-width="0.85"/>
<circle cx="357.00" cy="499.20" r="1.45" fill="#d01a7a" stroke="#d01a7a" stroke-width="0.3"/>
<circle cx="343.00" cy="497.60" r="1.45" fill="#d01a7a" stroke="#d01a7a" stroke-width="0.3"/>
<circle cx="345.90" cy="512.20" r="1.20" fill="none" stroke="#d01a7a" stroke-width="0.85"/>
<circle cx="350.70" cy="508.80" r="1.20" fill="none" stroke="#d01a7a" stroke-width="0.85"/>
<circle cx="345.90" cy="518.60" r="1.45" fill="#d01a7a" stroke="#d01a7a" stroke-width="0.3"/>
<circle cx="351.30" cy="518.60" r="1.45" fill="#d01a7a" stroke="#d01a7a" stroke-width="0.3"/>
<circle cx="356.10" cy="518.60" r="1.45" fill="#d01a7a" stroke="#d01a7a" stroke-width="0.3"/>
<circle cx="344.00" cy="525.90" r="1.20" fill="none" stroke="#d01a7a" stroke-width="0.85"/>
<circle cx="345.20" cy="530.00" r="1.20" fill="none" stroke="#d01a7a" stroke-width="0.85"/>
<circle cx="352.20" cy="524.40" r="1.20" fill="none" stroke="#d01a7a" stroke-width="0.85"/>
<circle cx="355.40" cy="529.30" r="1.20" fill="none" stroke="#d01a7a" stroke-width="0.85"/>
<circle cx="356.60" cy="531.70" r="1.20" fill="none" stroke="#d01a7a" stroke-width="0.85"/>
<circle cx="352.20" cy="537.00" r="1.20" fill="none" stroke="#d01a7a" stroke-width="0.85"/>
<circle cx="353.20" cy="541.40" r="1.20" fill="none" stroke="#d01a7a" stroke-width="0.85"/>
<circle cx="357.60" cy="552.30" r="1.20" fill="none" stroke="#d01a7a" stroke-width="0.85"/>
<circle cx="346.40" cy="556.70" r="1.45" fill="#d01a7a" stroke="#d01a7a" stroke-width="0.3"/>
<circle cx="354.20" cy="557.00" r="1.45" fill="#d01a7a" stroke="#d01a7a" stroke-width="0.3"/>
<circle cx="350.30" cy="568.20" r="1.20" fill="none" stroke="#d01a7a" stroke-width="0.85"/>
<circle cx="356.60" cy="569.30" r="1.45" fill="#d01a7a" stroke="#d01a7a" stroke-width="0.3"/>
<circle cx="374.90" cy="433.00" r="1.45" fill="#4a8fb4" stroke="#4a8fb4" stroke-width="0.3"/>
<circle cx="377.50" cy="433.00" r="1.20" fill="none" stroke="#4a8fb4" stroke-width="0.85"/>
<circle cx="384.00" cy="438.60" r="1.20" fill="none" stroke="#4a8fb4" stroke-width="0.85"/>
<circle cx="375.30" cy="453.80" r="1.20" fill="none" stroke="#4a8fb4" stroke-width="0.85"/>
<circle cx="379.60" cy="454.60" r="1.20" fill="none" stroke="#4a8fb4" stroke-width="0.85"/>
<circle cx="371.00" cy="457.20" r="1.20" fill="none" stroke="#4a8fb4" stroke-width="0.85"/>
<circle cx="372.30" cy="459.00" r="1.20" fill="none" stroke="#4a8fb4" stroke-width="0.85"/>
<circle cx="370.10" cy="461.30" r="1.20" fill="none" stroke="#4a8fb4" stroke-width="0.85"/>
<circle cx="385.30" cy="462.90" r="1.20" fill="none" stroke="#4a8fb4" stroke-width="0.85"/>
<circle cx="369.00" cy="462.60" r="1.45" fill="#4a8fb4" stroke="#4a8fb4" stroke-width="0.3"/>
<circle cx="371.40" cy="470.40" r="1.20" fill="none" stroke="#4a8fb4" stroke-width="0.85"/>
<circle cx="374.90" cy="475.80" r="1.20" fill="none" stroke="#4a8fb4" stroke-width="0.85"/>
<circle cx="370.50" cy="478.40" r="1.20" fill="none" stroke="#4a8fb4" stroke-width="0.85"/>
<circle cx="376.60" cy="480.80" r="1.20" fill="none" stroke="#4a8fb4" stroke-width="0.85"/>
<circle cx="386.30" cy="476.90" r="1.20" fill="none" stroke="#4a8fb4" stroke-width="0.85"/>
<circle cx="370.50" cy="489.20" r="1.45" fill="#4a8fb4" stroke="#4a8fb4" stroke-width="0.3"/>
<circle cx="373.60" cy="487.90" r="1.20" fill="none" stroke="#4a8fb4" stroke-width="0.85"/>
<circle cx="375.30" cy="494.00" r="1.45" fill="#4a8fb4" stroke="#4a8fb4" stroke-width="0.3"/>
<circle cx="375.30" cy="498.30" r="1.20" fill="none" stroke="#4a8fb4" stroke-width="0.85"/>
<circle cx="379.90" cy="502.60" r="1.20" fill="none" stroke="#4a8fb4" stroke-width="0.85"/>
<circle cx="383.10" cy="500.00" r="1.20" fill="none" stroke="#4a8fb4" stroke-width="0.85"/>
<circle cx="381.40" cy="501.50" r="1.20" fill="none" stroke="#4a8fb4" stroke-width="0.85"/>
<circle cx="377.60" cy="505.90" r="1.45" fill="#4a8fb4" stroke="#4a8fb4" stroke-width="0.3"/>
<circle cx="372.00" cy="512.20" r="1.20" fill="none" stroke="#4a8fb4" stroke-width="0.85"/>
<circle cx="371.50" cy="518.00" r="1.20" fill="none" stroke="#4a8fb4" stroke-width="0.85"/>
<circle cx="384.60" cy="521.70" r="1.20" fill="none" stroke="#4a8fb4" stroke-width="0.85"/>
<circle cx="376.40" cy="533.20" r="1.20" fill="none" stroke="#4a8fb4" stroke-width="0.85"/>
<circle cx="376.40" cy="538.40" r="1.20" fill="none" stroke="#4a8fb4" stroke-width="0.85"/>
<circle cx="373.20" cy="545.70" r="1.20" fill="none" stroke="#4a8fb4" stroke-width="0.85"/>
<circle cx="369.60" cy="551.10" r="1.45" fill="#4a8fb4" stroke="#4a8fb4" stroke-width="0.3"/>
<circle cx="377.30" cy="566.10" r="1.20" fill="none" stroke="#4a8fb4" stroke-width="0.85"/>
<circle cx="398.50" cy="433.40" r="1.45" fill="#3d9a42" stroke="#3d9a42" stroke-width="0.3"/>
<circle cx="400.00" cy="433.40" r="1.45" fill="#3d9a42" stroke="#3d9a42" stroke-width="0.3"/>
<circle cx="401.20" cy="433.40" r="1.45" fill="#3d9a42" stroke="#3d9a42" stroke-width="0.3"/>
<circle cx="403.80" cy="433.40" r="1.45" fill="#3d9a42" stroke="#3d9a42" stroke-width="0.3"/>
<circle cx="405.20" cy="433.40" r="1.45" fill="#3d9a42" stroke="#3d9a42" stroke-width="0.3"/>
<circle cx="406.60" cy="433.40" r="1.45" fill="#3d9a42" stroke="#3d9a42" stroke-width="0.3"/>
<circle cx="408.00" cy="433.40" r="1.45" fill="#3d9a42" stroke="#3d9a42" stroke-width="0.3"/>
<circle cx="412.40" cy="433.40" r="1.45" fill="#3d9a42" stroke="#3d9a42" stroke-width="0.3"/>
<circle cx="413.80" cy="433.40" r="1.45" fill="#3d9a42" stroke="#3d9a42" stroke-width="0.3"/>
<circle cx="415.20" cy="433.40" r="1.45" fill="#3d9a42" stroke="#3d9a42" stroke-width="0.3"/>
<circle cx="399.20" cy="437.10" r="1.45" fill="#3d9a42" stroke="#3d9a42" stroke-width="0.3"/>
<circle cx="400.10" cy="438.40" r="1.20" fill="none" stroke="#3d9a42" stroke-width="0.85"/>
<circle cx="404.00" cy="441.00" r="1.20" fill="none" stroke="#3d9a42" stroke-width="0.85"/>
<circle cx="400.80" cy="443.30" r="1.20" fill="none" stroke="#3d9a42" stroke-width="0.85"/>
<circle cx="410.90" cy="441.60" r="1.20" fill="none" stroke="#3d9a42" stroke-width="0.85"/>
<circle cx="411.80" cy="440.30" r="1.20" fill="none" stroke="#3d9a42" stroke-width="0.85"/>
<circle cx="415.40" cy="440.00" r="1.20" fill="none" stroke="#3d9a42" stroke-width="0.85"/>
<circle cx="409.60" cy="443.30" r="1.20" fill="none" stroke="#3d9a42" stroke-width="0.85"/>
<circle cx="414.40" cy="444.90" r="1.45" fill="#3d9a42" stroke="#3d9a42" stroke-width="0.3"/>
<circle cx="406.00" cy="446.20" r="1.20" fill="none" stroke="#3d9a42" stroke-width="0.85"/>
<circle cx="400.00" cy="445.20" r="1.45" fill="#3d9a42" stroke="#3d9a42" stroke-width="0.3"/>
<circle cx="401.40" cy="450.40" r="1.20" fill="none" stroke="#3d9a42" stroke-width="0.85"/>
<circle cx="399.50" cy="450.70" r="1.20" fill="none" stroke="#3d9a42" stroke-width="0.85"/>
<circle cx="402.70" cy="449.40" r="1.20" fill="none" stroke="#3d9a42" stroke-width="0.85"/>
<circle cx="401.10" cy="454.30" r="1.20" fill="none" stroke="#3d9a42" stroke-width="0.85"/>
<circle cx="408.60" cy="452.40" r="1.20" fill="none" stroke="#3d9a42" stroke-width="0.85"/>
<circle cx="409.20" cy="455.30" r="1.20" fill="none" stroke="#3d9a42" stroke-width="0.85"/>
<circle cx="411.80" cy="450.70" r="1.20" fill="none" stroke="#3d9a42" stroke-width="0.85"/>
<circle cx="412.50" cy="454.30" r="1.45" fill="#3d9a42" stroke="#3d9a42" stroke-width="0.3"/>
<circle cx="414.40" cy="455.60" r="1.45" fill="#3d9a42" stroke="#3d9a42" stroke-width="0.3"/>
<circle cx="415.10" cy="456.60" r="1.45" fill="#3d9a42" stroke="#3d9a42" stroke-width="0.3"/>
<circle cx="413.10" cy="457.90" r="1.20" fill="none" stroke="#3d9a42" stroke-width="0.85"/>
<circle cx="413.80" cy="459.80" r="1.20" fill="none" stroke="#3d9a42" stroke-width="0.85"/>
<circle cx="399.20" cy="458.50" r="1.20" fill="none" stroke="#3d9a42" stroke-width="0.85"/>
<circle cx="406.00" cy="461.10" r="1.20" fill="none" stroke="#3d9a42" stroke-width="0.85"/>
<circle cx="399.80" cy="462.60" r="1.45" fill="#3d9a42" stroke="#3d9a42" stroke-width="0.3"/>
<circle cx="408.20" cy="462.60" r="1.45" fill="#3d9a42" stroke="#3d9a42" stroke-width="0.3"/>
<circle cx="413.40" cy="462.60" r="1.45" fill="#3d9a42" stroke="#3d9a42" stroke-width="0.3"/>
<circle cx="400.10" cy="465.20" r="1.20" fill="none" stroke="#3d9a42" stroke-width="0.85"/>
<circle cx="407.30" cy="464.90" r="1.20" fill="none" stroke="#3d9a42" stroke-width="0.85"/>
<circle cx="408.60" cy="464.50" r="1.20" fill="none" stroke="#3d9a42" stroke-width="0.85"/>
<circle cx="411.50" cy="467.10" r="1.20" fill="none" stroke="#3d9a42" stroke-width="0.85"/>
<circle cx="415.40" cy="466.50" r="1.20" fill="none" stroke="#3d9a42" stroke-width="0.85"/>
<circle cx="413.70" cy="469.70" r="1.20" fill="none" stroke="#3d9a42" stroke-width="0.85"/>
<circle cx="409.20" cy="471.30" r="1.20" fill="none" stroke="#3d9a42" stroke-width="0.85"/>
<circle cx="400.10" cy="472.30" r="1.20" fill="none" stroke="#3d9a42" stroke-width="0.85"/>
<circle cx="405.60" cy="473.30" r="1.20" fill="none" stroke="#3d9a42" stroke-width="0.85"/>
<circle cx="409.50" cy="476.50" r="1.20" fill="none" stroke="#3d9a42" stroke-width="0.85"/>
<circle cx="406.90" cy="479.40" r="1.20" fill="none" stroke="#3d9a42" stroke-width="0.85"/>
<circle cx="405.00" cy="484.30" r="1.20" fill="none" stroke="#3d9a42" stroke-width="0.85"/>
<circle cx="400.50" cy="486.20" r="1.20" fill="none" stroke="#3d9a42" stroke-width="0.85"/>
<circle cx="407.60" cy="487.90" r="1.20" fill="none" stroke="#3d9a42" stroke-width="0.85"/>
<circle cx="407.90" cy="489.50" r="1.20" fill="none" stroke="#3d9a42" stroke-width="0.85"/>
<circle cx="412.10" cy="495.00" r="1.20" fill="none" stroke="#3d9a42" stroke-width="0.85"/>
<circle cx="413.70" cy="496.00" r="1.20" fill="none" stroke="#3d9a42" stroke-width="0.85"/>
<circle cx="401.40" cy="497.20" r="1.45" fill="#3d9a42" stroke="#3d9a42" stroke-width="0.3"/>
<circle cx="412.90" cy="497.00" r="1.20" fill="none" stroke="#3d9a42" stroke-width="0.85"/>
<circle cx="399.00" cy="500.50" r="1.20" fill="none" stroke="#3d9a42" stroke-width="0.85"/>
<circle cx="408.20" cy="509.60" r="1.45" fill="#3d9a42" stroke="#3d9a42" stroke-width="0.3"/>
<circle cx="410.20" cy="509.30" r="1.45" fill="#3d9a42" stroke="#3d9a42" stroke-width="0.3"/>
<circle cx="409.70" cy="514.70" r="1.20" fill="none" stroke="#3d9a42" stroke-width="0.85"/>
<circle cx="413.60" cy="513.70" r="1.20" fill="none" stroke="#3d9a42" stroke-width="0.85"/>
<circle cx="407.30" cy="524.20" r="1.20" fill="none" stroke="#3d9a42" stroke-width="0.85"/>
<circle cx="406.30" cy="529.30" r="1.20" fill="none" stroke="#3d9a42" stroke-width="0.85"/>
<circle cx="408.80" cy="527.80" r="1.45" fill="#3d9a42" stroke="#3d9a42" stroke-width="0.3"/>
<circle cx="415.50" cy="532.20" r="1.45" fill="#3d9a42" stroke="#3d9a42" stroke-width="0.3"/>
<circle cx="401.90" cy="536.10" r="1.20" fill="none" stroke="#3d9a42" stroke-width="0.85"/>
<circle cx="403.40" cy="538.40" r="1.45" fill="#3d9a42" stroke="#3d9a42" stroke-width="0.3"/>
<circle cx="404.80" cy="550.10" r="1.20" fill="none" stroke="#3d9a42" stroke-width="0.85"/>
<circle cx="401.20" cy="554.50" r="1.20" fill="none" stroke="#3d9a42" stroke-width="0.85"/>
<circle cx="411.10" cy="566.10" r="1.20" fill="none" stroke="#3d9a42" stroke-width="0.85"/>
<circle cx="406.70" cy="570.10" r="1.45" fill="#3d9a42" stroke="#3d9a42" stroke-width="0.3"/>
<circle cx="398.00" cy="578.10" r="1.20" fill="none" stroke="#3d9a42" stroke-width="0.85"/>
<circle cx="408.20" cy="578.10" r="1.20" fill="none" stroke="#3d9a42" stroke-width="0.85"/>
<circle cx="413.20" cy="578.10" r="1.20" fill="none" stroke="#3d9a42" stroke-width="0.85"/>
<circle cx="429.00" cy="433.40" r="1.20" fill="none" stroke="#70482a" stroke-width="0.85"/>
<circle cx="430.70" cy="433.40" r="1.20" fill="none" stroke="#70482a" stroke-width="0.85"/>
<circle cx="436.30" cy="433.40" r="1.45" fill="#70482a" stroke="#70482a" stroke-width="0.3"/>
<circle cx="442.40" cy="433.40" r="1.20" fill="none" stroke="#70482a" stroke-width="0.85"/>
<circle cx="444.10" cy="433.40" r="1.45" fill="#70482a" stroke="#70482a" stroke-width="0.3"/>
<circle cx="443.30" cy="436.70" r="1.20" fill="none" stroke="#70482a" stroke-width="0.85"/>
<circle cx="432.00" cy="438.00" r="1.45" fill="#70482a" stroke="#70482a" stroke-width="0.3"/>
<circle cx="436.80" cy="439.90" r="1.45" fill="#70482a" stroke="#70482a" stroke-width="0.3"/>
<circle cx="438.10" cy="441.90" r="1.20" fill="none" stroke="#70482a" stroke-width="0.85"/>
<circle cx="428.50" cy="447.30" r="1.20" fill="none" stroke="#70482a" stroke-width="0.85"/>
<circle cx="429.40" cy="449.00" r="1.20" fill="none" stroke="#70482a" stroke-width="0.85"/>
<circle cx="430.10" cy="449.90" r="1.45" fill="#70482a" stroke="#70482a" stroke-width="0.3"/>
<circle cx="440.50" cy="450.30" r="1.20" fill="none" stroke="#70482a" stroke-width="0.85"/>
<circle cx="439.40" cy="452.20" r="1.20" fill="none" stroke="#70482a" stroke-width="0.85"/>
<circle cx="437.90" cy="454.60" r="1.20" fill="none" stroke="#70482a" stroke-width="0.85"/>
<circle cx="440.70" cy="455.50" r="1.20" fill="none" stroke="#70482a" stroke-width="0.85"/>
<circle cx="433.70" cy="455.90" r="1.45" fill="#70482a" stroke="#70482a" stroke-width="0.3"/>
<circle cx="440.20" cy="459.40" r="1.45" fill="#70482a" stroke="#70482a" stroke-width="0.3"/>
<circle cx="443.30" cy="459.40" r="1.45" fill="#70482a" stroke="#70482a" stroke-width="0.3"/>
<circle cx="439.40" cy="462.40" r="1.20" fill="none" stroke="#70482a" stroke-width="0.85"/>
<circle cx="435.00" cy="463.90" r="1.20" fill="none" stroke="#70482a" stroke-width="0.85"/>
<circle cx="432.90" cy="467.50" r="1.45" fill="#70482a" stroke="#70482a" stroke-width="0.3"/>
<circle cx="429.40" cy="469.70" r="1.45" fill="#70482a" stroke="#70482a" stroke-width="0.3"/>
<circle cx="433.30" cy="469.70" r="1.20" fill="none" stroke="#70482a" stroke-width="0.85"/>
<circle cx="434.00" cy="471.00" r="1.20" fill="none" stroke="#70482a" stroke-width="0.85"/>
<circle cx="435.50" cy="472.30" r="1.20" fill="none" stroke="#70482a" stroke-width="0.85"/>
<circle cx="442.40" cy="474.30" r="1.20" fill="none" stroke="#70482a" stroke-width="0.85"/>
<circle cx="444.10" cy="477.50" r="1.45" fill="#70482a" stroke="#70482a" stroke-width="0.3"/>
<circle cx="444.30" cy="480.80" r="1.20" fill="none" stroke="#70482a" stroke-width="0.85"/>
<circle cx="442.40" cy="484.40" r="1.20" fill="none" stroke="#70482a" stroke-width="0.85"/>
<circle cx="433.70" cy="487.30" r="1.45" fill="#70482a" stroke="#70482a" stroke-width="0.3"/>
<circle cx="430.50" cy="503.00" r="1.20" fill="none" stroke="#70482a" stroke-width="0.85"/>
<circle cx="439.20" cy="504.90" r="1.20" fill="none" stroke="#70482a" stroke-width="0.85"/>
<circle cx="437.80" cy="508.80" r="1.45" fill="#70482a" stroke="#70482a" stroke-width="0.3"/>
<circle cx="438.80" cy="508.80" r="1.45" fill="#70482a" stroke="#70482a" stroke-width="0.3"/>
<circle cx="441.40" cy="518.30" r="1.45" fill="#70482a" stroke="#70482a" stroke-width="0.3"/>
<circle cx="431.50" cy="523.10" r="1.20" fill="none" stroke="#70482a" stroke-width="0.85"/>
<circle cx="430.50" cy="527.80" r="1.45" fill="#70482a" stroke="#70482a" stroke-width="0.3"/>
<circle cx="430.90" cy="540.90" r="1.20" fill="none" stroke="#70482a" stroke-width="0.85"/>
<circle cx="433.40" cy="564.20" r="1.20" fill="none" stroke="#70482a" stroke-width="0.85"/>
<circle cx="434.40" cy="569.30" r="1.20" fill="none" stroke="#70482a" stroke-width="0.85"/>
<circle cx="437.80" cy="578.40" r="1.20" fill="none" stroke="#70482a" stroke-width="0.85"/>
<circle cx="443.60" cy="578.40" r="1.20" fill="none" stroke="#70482a" stroke-width="0.85"/>
<rect x="311.00" y="577.20" width="19.00" height="2.20" fill="#a8123a"/>
<rect x="341.50" y="577.20" width="15.50" height="2.20" fill="#c8176f"/>
<text x="319.60" y="433.08" font-size="4.6" text-anchor="middle" fill="#222" stroke="#222" stroke-width="0.15" textLength="5.73" lengthAdjust="spacingAndGlyphs">#1</text>
<text x="324.40" y="461.88" font-size="4.6" text-anchor="middle" fill="#222" stroke="#222" stroke-width="0.15" textLength="5.73" lengthAdjust="spacingAndGlyphs">#2</text>
<text x="312.30" y="497.28" font-size="4.6" text-anchor="middle" fill="#222" stroke="#222" stroke-width="0.15" textLength="5.73" lengthAdjust="spacingAndGlyphs">#3</text>
<text x="309.60" y="513.98" font-size="4.6" text-anchor="middle" fill="#222" stroke="#222" stroke-width="0.15" textLength="5.73" lengthAdjust="spacingAndGlyphs">#4</text>
<text x="372.90" y="572.38" font-size="4.6" text-anchor="middle" fill="#222" stroke="#222" stroke-width="0.15" textLength="5.73" lengthAdjust="spacingAndGlyphs">#5</text>
<text x="415.80" y="570.18" font-size="4.6" text-anchor="middle" fill="#222" stroke="#222" stroke-width="0.15" textLength="5.73" lengthAdjust="spacingAndGlyphs">#6</text>
<text x="400.50" y="573.18" font-size="4.6" text-anchor="middle" fill="#222" stroke="#222" stroke-width="0.15" textLength="5.73" lengthAdjust="spacingAndGlyphs">#7</text>
<text x="391.20" y="583.88" font-size="4.6" text-anchor="middle" fill="#222" stroke="#222" stroke-width="0.15" textLength="5.73" lengthAdjust="spacingAndGlyphs">#8</text>
<text x="405.60" y="584.08" font-size="4.6" text-anchor="middle" fill="#222" stroke="#222" stroke-width="0.15" textLength="5.73" lengthAdjust="spacingAndGlyphs">#9</text>
<text x="417.40" y="584.08" font-size="4.6" text-anchor="middle" fill="#222" stroke="#222" stroke-width="0.15" textLength="8.6" lengthAdjust="spacingAndGlyphs">#10</text>
<text x="442.20" y="564.98" font-size="4.6" text-anchor="middle" fill="#222" stroke="#222" stroke-width="0.15" textLength="8.6" lengthAdjust="spacingAndGlyphs">#11</text>
<text x="443.70" y="572.18" font-size="4.6" text-anchor="middle" fill="#222" stroke="#222" stroke-width="0.15" textLength="8.6" lengthAdjust="spacingAndGlyphs">#12</text>
<text x="437.00" y="584.18" font-size="4.6" text-anchor="middle" fill="#222" stroke="#222" stroke-width="0.15" textLength="8.6" lengthAdjust="spacingAndGlyphs">#13</text>
<text x="452.20" y="584.18" font-size="4.6" text-anchor="middle" fill="#222" stroke="#222" stroke-width="0.15" textLength="8.6" lengthAdjust="spacingAndGlyphs">#14</text>
<text x="453.80" y="444.93" font-size="5.6" text-anchor="start" fill="#333" stroke="#333" stroke-width="0.15" textLength="31" lengthAdjust="spacingAndGlyphs"><tspan font-style="italic">TP53</tspan>-mutated</text>
<circle cx="463.80" cy="451.30" r="1.20" fill="none" stroke="#222" stroke-width="0.8"/>
<text x="467.70" y="453.23" font-size="5.6" text-anchor="start" fill="#333" stroke="#333" stroke-width="0.15">No</text>
<circle cx="463.80" cy="460.40" r="1.40" fill="#111" stroke="none" stroke-width="0"/>
<text x="467.70" y="462.33" font-size="5.6" text-anchor="start" fill="#333" stroke="#333" stroke-width="0.15">Yes</text>
<text x="456.70" y="497.86" font-size="5.4" text-anchor="start" fill="#333" stroke="#333" stroke-width="0.15" textLength="21.5" lengthAdjust="spacingAndGlyphs"><tspan font-style="italic">P</tspan> = .0001</text>
<text x="456.50" y="504.16" font-size="5.4" text-anchor="start" fill="#333" stroke="#333" stroke-width="0.15" textLength="24.4" lengthAdjust="spacingAndGlyphs">(Trend test)</text>
<rect x="0.5" y="0.5" width="519" height="616" fill="none" stroke="#666" stroke-width="1"/>
</svg>
</div>
</body></html>
